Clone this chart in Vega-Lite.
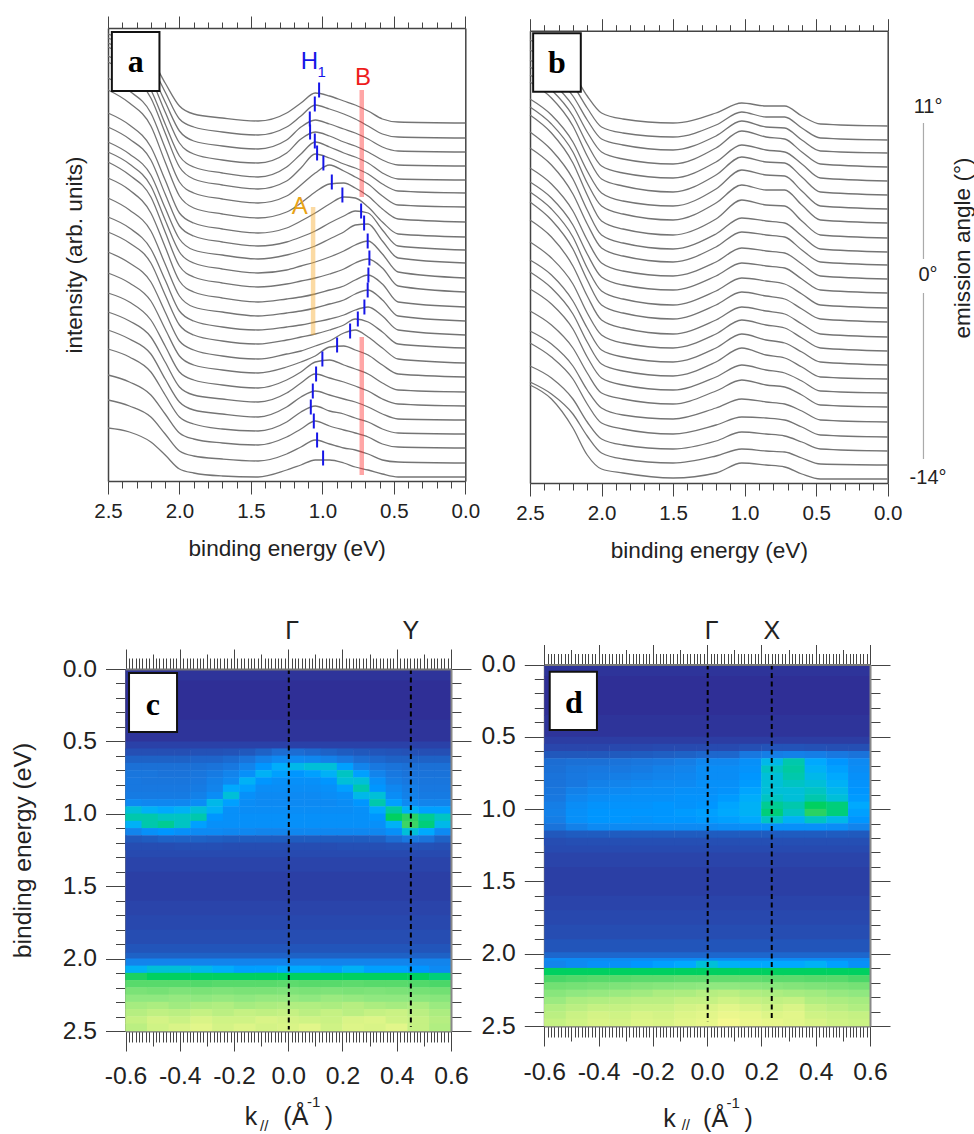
{"$schema":"https://vega.github.io/schema/vega-lite/v6.json","width":974,"height":1134,"padding":0,"autosize":"none","background":"white","config":{"view":{"stroke":null},"axis":{"grid":false,"labelFont":"Liberation Sans","titleFont":"Liberation Sans","titleFontWeight":"normal","labelColor":"#222","titleColor":"#222","labelOverlap":false,"labelFlush":false,"labelBound":false},"text":{"font":"Liberation Sans"}},"resolve":{"scale":{"x":"independent","y":"independent","color":"independent"},"axis":{"x":"independent","y":"independent"}},"layer":[
{"data":{"values":[
{"c":1,"x":2.5,"y":447},{"c":1,"x":2.35,"y":438},{"c":1,"x":2.2,"y":423},{"c":1,"x":2.1,"y":398},{"c":1,"x":2,"y":375},{"c":1,"x":1.9,"y":367},{"c":1,"x":1.7,"y":363},{"c":1,"x":1.45,"y":360},{"c":1,"x":1.25,"y":368},{"c":1,"x":1.15,"y":378},{"c":1,"x":1.05,"y":388},{"c":1,"x":0.95,"y":385},{"c":1,"x":0.85,"y":380},{"c":1,"x":0.77,"y":376},{"c":1,"x":0.68,"y":370},{"c":1,"x":0.58,"y":362},{"c":1,"x":0.47,"y":359},{"c":1,"x":0,"y":358},
{"c":2,"x":2.5,"y":443},{"c":2,"x":2.35,"y":433},{"c":2,"x":2.2,"y":416},{"c":2,"x":2.1,"y":389},{"c":2,"x":2,"y":362},{"c":2,"x":1.9,"y":354},{"c":2,"x":1.7,"y":349},{"c":2,"x":1.45,"y":346},{"c":2,"x":1.25,"y":354},{"c":2,"x":1.15,"y":365},{"c":2,"x":1.05,"y":376},{"c":2,"x":0.95,"y":372},{"c":2,"x":0.85,"y":367},{"c":2,"x":0.77,"y":362},{"c":2,"x":0.68,"y":355},{"c":2,"x":0.58,"y":347},{"c":2,"x":0.47,"y":344},{"c":2,"x":0,"y":343},
{"c":3,"x":2.5,"y":438},{"c":3,"x":2.35,"y":427},{"c":3,"x":2.2,"y":408},{"c":3,"x":2.1,"y":379},{"c":3,"x":2,"y":350},{"c":3,"x":1.9,"y":340},{"c":3,"x":1.7,"y":335},{"c":3,"x":1.45,"y":332},{"c":3,"x":1.25,"y":341},{"c":3,"x":1.15,"y":354},{"c":3,"x":1.05,"y":361},{"c":3,"x":0.95,"y":357},{"c":3,"x":0.85,"y":352},{"c":3,"x":0.77,"y":348},{"c":3,"x":0.68,"y":342},{"c":3,"x":0.58,"y":334},{"c":3,"x":0.47,"y":330},{"c":3,"x":0,"y":329},
{"c":4,"x":2.5,"y":434},{"c":4,"x":2.35,"y":422},{"c":4,"x":2.2,"y":402},{"c":4,"x":2.1,"y":369},{"c":4,"x":2,"y":338},{"c":4,"x":1.9,"y":327},{"c":4,"x":1.7,"y":321},{"c":4,"x":1.45,"y":318},{"c":4,"x":1.25,"y":328},{"c":4,"x":1.15,"y":342},{"c":4,"x":1.05,"y":349},{"c":4,"x":0.95,"y":345},{"c":4,"x":0.85,"y":339},{"c":4,"x":0.77,"y":335},{"c":4,"x":0.68,"y":329},{"c":4,"x":0.58,"y":321},{"c":4,"x":0.47,"y":316},{"c":4,"x":0,"y":315},
{"c":5,"x":2.5,"y":425},{"c":5,"x":2.35,"y":413},{"c":5,"x":2.2,"y":391},{"c":5,"x":2.1,"y":357},{"c":5,"x":2,"y":325},{"c":5,"x":1.9,"y":314},{"c":5,"x":1.7,"y":308},{"c":5,"x":1.45,"y":304},{"c":5,"x":1.25,"y":314},{"c":5,"x":1.15,"y":327},{"c":5,"x":1.05,"y":339},{"c":5,"x":0.95,"y":334},{"c":5,"x":0.85,"y":328},{"c":5,"x":0.77,"y":324},{"c":5,"x":0.68,"y":318},{"c":5,"x":0.58,"y":308},{"c":5,"x":0.47,"y":302},{"c":5,"x":0,"y":301},
{"c":6,"x":2.5,"y":419},{"c":6,"x":2.35,"y":406},{"c":6,"x":2.2,"y":383},{"c":6,"x":2.1,"y":348},{"c":6,"x":2,"y":314},{"c":6,"x":1.9,"y":302},{"c":6,"x":1.7,"y":296},{"c":6,"x":1.45,"y":292},{"c":6,"x":1.25,"y":300},{"c":6,"x":1.15,"y":313},{"c":6,"x":1.05,"y":327},{"c":6,"x":0.95,"y":323},{"c":6,"x":0.85,"y":317},{"c":6,"x":0.77,"y":313},{"c":6,"x":0.68,"y":307},{"c":6,"x":0.58,"y":297},{"c":6,"x":0.47,"y":290},{"c":6,"x":0,"y":288},
{"c":7,"x":2.5,"y":403},{"c":7,"x":2.35,"y":390},{"c":7,"x":2.2,"y":368},{"c":7,"x":2.1,"y":333},{"c":7,"x":2,"y":299},{"c":7,"x":1.9,"y":288},{"c":7,"x":1.7,"y":282},{"c":7,"x":1.45,"y":278},{"c":7,"x":1.25,"y":285},{"c":7,"x":1.15,"y":296},{"c":7,"x":1.05,"y":308},{"c":7,"x":0.95,"y":316},{"c":7,"x":0.85,"y":310},{"c":7,"x":0.77,"y":304},{"c":7,"x":0.68,"y":297},{"c":7,"x":0.58,"y":285},{"c":7,"x":0.47,"y":276},{"c":7,"x":0,"y":274},
{"c":8,"x":2.5,"y":391},{"c":8,"x":2.35,"y":378},{"c":8,"x":2.2,"y":355},{"c":8,"x":2.1,"y":319},{"c":8,"x":2,"y":285},{"c":8,"x":1.9,"y":273},{"c":8,"x":1.7,"y":267},{"c":8,"x":1.45,"y":263},{"c":8,"x":1.25,"y":269},{"c":8,"x":1.15,"y":278},{"c":8,"x":1.05,"y":289},{"c":8,"x":0.95,"y":297},{"c":8,"x":0.85,"y":298},{"c":8,"x":0.77,"y":293},{"c":8,"x":0.68,"y":285},{"c":8,"x":0.58,"y":272},{"c":8,"x":0.47,"y":262},{"c":8,"x":0,"y":259},
{"c":9,"x":2.5,"y":368},{"c":9,"x":2.35,"y":356},{"c":9,"x":2.2,"y":334},{"c":9,"x":2.1,"y":301},{"c":9,"x":2,"y":268},{"c":9,"x":1.9,"y":258},{"c":9,"x":1.7,"y":252},{"c":9,"x":1.45,"y":248},{"c":9,"x":1.25,"y":253},{"c":9,"x":1.15,"y":260},{"c":9,"x":1.05,"y":268},{"c":9,"x":0.95,"y":277},{"c":9,"x":0.85,"y":284},{"c":9,"x":0.77,"y":283},{"c":9,"x":0.68,"y":274},{"c":9,"x":0.58,"y":259},{"c":9,"x":0.47,"y":247},{"c":9,"x":0,"y":244},
{"c":10,"x":2.5,"y":354},{"c":10,"x":2.35,"y":342},{"c":10,"x":2.2,"y":321},{"c":10,"x":2.1,"y":287},{"c":10,"x":2,"y":255},{"c":10,"x":1.9,"y":245},{"c":10,"x":1.7,"y":239},{"c":10,"x":1.45,"y":235},{"c":10,"x":1.25,"y":239},{"c":10,"x":1.15,"y":244},{"c":10,"x":1.05,"y":250},{"c":10,"x":0.95,"y":258},{"c":10,"x":0.85,"y":265},{"c":10,"x":0.77,"y":270},{"c":10,"x":0.68,"y":268},{"c":10,"x":0.58,"y":251},{"c":10,"x":0.47,"y":235},{"c":10,"x":0,"y":231},
{"c":11,"x":2.5,"y":339},{"c":11,"x":2.35,"y":327},{"c":11,"x":2.2,"y":306},{"c":11,"x":2.1,"y":273},{"c":11,"x":2,"y":242},{"c":11,"x":1.9,"y":231},{"c":11,"x":1.7,"y":226},{"c":11,"x":1.45,"y":222},{"c":11,"x":1.25,"y":226},{"c":11,"x":1.15,"y":230},{"c":11,"x":1.05,"y":235},{"c":11,"x":0.95,"y":242},{"c":11,"x":0.85,"y":249},{"c":11,"x":0.77,"y":256},{"c":11,"x":0.68,"y":257},{"c":11,"x":0.58,"y":240},{"c":11,"x":0.47,"y":223},{"c":11,"x":0,"y":218},
{"c":12,"x":2.5,"y":329},{"c":12,"x":2.35,"y":317},{"c":12,"x":2.2,"y":295},{"c":12,"x":2.1,"y":261},{"c":12,"x":2,"y":229},{"c":12,"x":1.9,"y":218},{"c":12,"x":1.7,"y":212},{"c":12,"x":1.45,"y":208},{"c":12,"x":1.25,"y":211},{"c":12,"x":1.15,"y":215},{"c":12,"x":1.05,"y":219},{"c":12,"x":0.95,"y":224},{"c":12,"x":0.85,"y":230},{"c":12,"x":0.77,"y":236},{"c":12,"x":0.68,"y":240},{"c":12,"x":0.58,"y":227},{"c":12,"x":0.47,"y":209},{"c":12,"x":0,"y":203},
{"c":13,"x":2.5,"y":319},{"c":13,"x":2.35,"y":306},{"c":13,"x":2.2,"y":284},{"c":13,"x":2.1,"y":249},{"c":13,"x":2,"y":215},{"c":13,"x":1.9,"y":204},{"c":13,"x":1.7,"y":198},{"c":13,"x":1.45,"y":194},{"c":13,"x":1.25,"y":197},{"c":13,"x":1.15,"y":200},{"c":13,"x":1.05,"y":203},{"c":13,"x":0.95,"y":207},{"c":13,"x":0.85,"y":212},{"c":13,"x":0.77,"y":218},{"c":13,"x":0.68,"y":222},{"c":13,"x":0.58,"y":213},{"c":13,"x":0.47,"y":195},{"c":13,"x":0,"y":189},
{"c":14,"x":2.5,"y":303},{"c":14,"x":2.35,"y":291},{"c":14,"x":2.2,"y":268},{"c":14,"x":2.1,"y":234},{"c":14,"x":2,"y":200},{"c":14,"x":1.9,"y":189},{"c":14,"x":1.7,"y":183},{"c":14,"x":1.45,"y":179},{"c":14,"x":1.25,"y":182},{"c":14,"x":1.15,"y":184},{"c":14,"x":1.05,"y":187},{"c":14,"x":0.95,"y":191},{"c":14,"x":0.85,"y":195},{"c":14,"x":0.77,"y":201},{"c":14,"x":0.68,"y":206},{"c":14,"x":0.58,"y":197},{"c":14,"x":0.47,"y":179},{"c":14,"x":0,"y":174},
{"c":15,"x":2.5,"y":283},{"c":15,"x":2.35,"y":271},{"c":15,"x":2.2,"y":250},{"c":15,"x":2.1,"y":217},{"c":15,"x":2,"y":185},{"c":15,"x":1.9,"y":174},{"c":15,"x":1.7,"y":169},{"c":15,"x":1.45,"y":165},{"c":15,"x":1.25,"y":168},{"c":15,"x":1.15,"y":170},{"c":15,"x":1.05,"y":173},{"c":15,"x":0.95,"y":177},{"c":15,"x":0.85,"y":181},{"c":15,"x":0.77,"y":187},{"c":15,"x":0.68,"y":191},{"c":15,"x":0.58,"y":181},{"c":15,"x":0.47,"y":165},{"c":15,"x":0,"y":160},
{"c":16,"x":2.5,"y":264},{"c":16,"x":2.35,"y":253},{"c":16,"x":2.2,"y":232},{"c":16,"x":2.1,"y":201},{"c":16,"x":2,"y":170},{"c":16,"x":1.9,"y":160},{"c":16,"x":1.7,"y":154},{"c":16,"x":1.45,"y":151},{"c":16,"x":1.25,"y":154},{"c":16,"x":1.15,"y":156},{"c":16,"x":1.05,"y":159},{"c":16,"x":0.95,"y":162},{"c":16,"x":0.85,"y":166},{"c":16,"x":0.77,"y":171},{"c":16,"x":0.68,"y":174},{"c":16,"x":0.58,"y":165},{"c":16,"x":0.47,"y":151},{"c":16,"x":0,"y":146},
{"c":17,"x":2.5,"y":249},{"c":17,"x":2.35,"y":238},{"c":17,"x":2.2,"y":218},{"c":17,"x":2.1,"y":186},{"c":17,"x":2,"y":156},{"c":17,"x":1.9,"y":146},{"c":17,"x":1.7,"y":140},{"c":17,"x":1.45,"y":137},{"c":17,"x":1.25,"y":141},{"c":17,"x":1.15,"y":144},{"c":17,"x":1.05,"y":147},{"c":17,"x":0.95,"y":151},{"c":17,"x":0.85,"y":156},{"c":17,"x":0.77,"y":162},{"c":17,"x":0.68,"y":159},{"c":17,"x":0.58,"y":149},{"c":17,"x":0.47,"y":137},{"c":17,"x":0,"y":133},
{"c":18,"x":2.5,"y":229},{"c":18,"x":2.35,"y":218},{"c":18,"x":2.2,"y":199},{"c":18,"x":2.1,"y":169},{"c":18,"x":2,"y":140},{"c":18,"x":1.9,"y":131},{"c":18,"x":1.7,"y":125},{"c":18,"x":1.45,"y":122},{"c":18,"x":1.25,"y":127},{"c":18,"x":1.15,"y":130},{"c":18,"x":1.05,"y":135},{"c":18,"x":0.95,"y":140},{"c":18,"x":0.85,"y":148},{"c":18,"x":0.77,"y":151},{"c":18,"x":0.68,"y":144},{"c":18,"x":0.58,"y":133},{"c":18,"x":0.47,"y":122},{"c":18,"x":0,"y":118},
{"c":19,"x":2.5,"y":208},{"c":19,"x":2.35,"y":198},{"c":19,"x":2.2,"y":180},{"c":19,"x":2.1,"y":152},{"c":19,"x":2,"y":125},{"c":19,"x":1.9,"y":116},{"c":19,"x":1.7,"y":111},{"c":19,"x":1.45,"y":108},{"c":19,"x":1.25,"y":114},{"c":19,"x":1.15,"y":119},{"c":19,"x":1.05,"y":125},{"c":19,"x":0.95,"y":134},{"c":19,"x":0.85,"y":135},{"c":19,"x":0.77,"y":131},{"c":19,"x":0.68,"y":126},{"c":19,"x":0.58,"y":116},{"c":19,"x":0.47,"y":107},{"c":19,"x":0,"y":104},
{"c":20,"x":2.5,"y":188},{"c":20,"x":2.35,"y":179},{"c":20,"x":2.2,"y":161},{"c":20,"x":2.1,"y":135},{"c":20,"x":2,"y":109},{"c":20,"x":1.9,"y":101},{"c":20,"x":1.7,"y":96},{"c":20,"x":1.45,"y":93},{"c":20,"x":1.25,"y":101},{"c":20,"x":1.15,"y":109},{"c":20,"x":1.05,"y":119},{"c":20,"x":0.95,"y":121},{"c":20,"x":0.85,"y":116},{"c":20,"x":0.77,"y":112},{"c":20,"x":0.68,"y":107},{"c":20,"x":0.58,"y":98},{"c":20,"x":0.47,"y":91},{"c":20,"x":0,"y":89},
{"c":21,"x":2.5,"y":169},{"c":21,"x":2.35,"y":160},{"c":21,"x":2.2,"y":144},{"c":21,"x":2.1,"y":119},{"c":21,"x":2,"y":94},{"c":21,"x":1.9,"y":86},{"c":21,"x":1.7,"y":82},{"c":21,"x":1.45,"y":79},{"c":21,"x":1.25,"y":88},{"c":21,"x":1.15,"y":98},{"c":21,"x":1.05,"y":107},{"c":21,"x":0.95,"y":103},{"c":21,"x":0.85,"y":99},{"c":21,"x":0.77,"y":95},{"c":21,"x":0.68,"y":90},{"c":21,"x":0.58,"y":82},{"c":21,"x":0.47,"y":77},{"c":21,"x":0,"y":75},
{"c":22,"x":2.5,"y":151},{"c":22,"x":2.35,"y":142},{"c":22,"x":2.2,"y":127},{"c":22,"x":2.1,"y":102},{"c":22,"x":2,"y":79},{"c":22,"x":1.9,"y":71},{"c":22,"x":1.7,"y":67},{"c":22,"x":1.45,"y":64},{"c":22,"x":1.25,"y":74},{"c":22,"x":1.15,"y":84},{"c":22,"x":1.05,"y":90},{"c":22,"x":0.95,"y":86},{"c":22,"x":0.85,"y":82},{"c":22,"x":0.77,"y":79},{"c":22,"x":0.68,"y":74},{"c":22,"x":0.58,"y":67},{"c":22,"x":0.47,"y":62},{"c":22,"x":0,"y":61},
{"c":23,"x":2.5,"y":132},{"c":23,"x":2.35,"y":124},{"c":23,"x":2.2,"y":109},{"c":23,"x":2.1,"y":86},{"c":23,"x":2,"y":64},{"c":23,"x":1.9,"y":57},{"c":23,"x":1.7,"y":52},{"c":23,"x":1.45,"y":50},{"c":23,"x":1.25,"y":59},{"c":23,"x":1.15,"y":69},{"c":23,"x":1.05,"y":75},{"c":23,"x":0.95,"y":70},{"c":23,"x":0.85,"y":67},{"c":23,"x":0.77,"y":63},{"c":23,"x":0.68,"y":59},{"c":23,"x":0.58,"y":52},{"c":23,"x":0.47,"y":48},{"c":23,"x":0,"y":47},
{"c":24,"x":2.5,"y":106},{"c":24,"x":2.35,"y":99},{"c":24,"x":2.2,"y":86},{"c":24,"x":2.1,"y":67},{"c":24,"x":2,"y":48},{"c":24,"x":1.9,"y":42},{"c":24,"x":1.7,"y":38},{"c":24,"x":1.45,"y":36},{"c":24,"x":1.25,"y":44},{"c":24,"x":1.15,"y":52},{"c":24,"x":1.05,"y":60},{"c":24,"x":0.95,"y":55},{"c":24,"x":0.85,"y":51},{"c":24,"x":0.77,"y":48},{"c":24,"x":0.68,"y":44},{"c":24,"x":0.58,"y":37},{"c":24,"x":0.47,"y":34},{"c":24,"x":0,"y":33},
{"c":25,"x":2.5,"y":81},{"c":25,"x":2.35,"y":75},{"c":25,"x":2.2,"y":64},{"c":25,"x":2.1,"y":47},{"c":25,"x":2,"y":30},{"c":25,"x":1.9,"y":25},{"c":25,"x":1.7,"y":22},{"c":25,"x":1.45,"y":20},{"c":25,"x":1.25,"y":27},{"c":25,"x":1.15,"y":34},{"c":25,"x":1.05,"y":41},{"c":25,"x":0.95,"y":37},{"c":25,"x":0.85,"y":33},{"c":25,"x":0.77,"y":31},{"c":25,"x":0.68,"y":27},{"c":25,"x":0.58,"y":21},{"c":25,"x":0.47,"y":19},{"c":25,"x":0,"y":18},
{"c":26,"x":2.5,"y":53},{"c":26,"x":2.35,"y":49},{"c":26,"x":2.2,"y":39},{"c":26,"x":2.1,"y":26},{"c":26,"x":2,"y":12},{"c":26,"x":1.9,"y":8},{"c":26,"x":1.7,"y":5},{"c":26,"x":1.45,"y":4},{"c":26,"x":1.25,"y":11},{"c":26,"x":1.15,"y":16},{"c":26,"x":1.05,"y":21},{"c":26,"x":0.95,"y":21},{"c":26,"x":0.85,"y":18},{"c":26,"x":0.77,"y":14},{"c":26,"x":0.68,"y":11},{"c":26,"x":0.58,"y":7},{"c":26,"x":0.47,"y":4},{"c":26,"x":0,"y":4}
]},"mark":{"type":"line","stroke":"#747474","strokeWidth":1.3,"interpolate":"monotone"},"encoding":{"detail":{"field":"c"},"x":{"field":"x","type":"quantitative","scale":{"domain":[2.5,0],"range":[108,465.3]},"axis":{"orient":"bottom","offset":-653,"values":[2.5,2.4,2.3,2.2,2.1,2,1.9,1.8,1.7,1.6,1.5,1.4,1.3,1.2,1.1,1,0.9,0.8,0.7,0.6,0.5,0.4,0.3,0.2,0.1,0],"labelExpr":"abs(datum.value*2-round(datum.value*2))<0.01?format(datum.value,'.1f'):''","tickSize":{"condition":{"test":"abs(datum.value*2-round(datum.value*2))<0.01","value":13},"value":7},"labelFontSize":20.5,"labelPadding":7,"title":"binding energy (eV)","titleFontSize":22.6,"titlePadding":16,"domainColor":"#444","tickColor":"#444","domainWidth":1.5,"tickWidth":1}},"y":{"field":"y","type":"quantitative","scale":{"domain":[0,453],"range":[481,28]},"axis":{"orient":"left","offset":-108,"values":[],"ticks":false,"labels":false,"title":"intensity (arb. units)","titleFontSize":22.6,"titlePadding":22,"domainColor":"#444","domainWidth":1.5}}}},
{"data":{"values":[{"x":1,"y":1}]},"mark":{"type":"point","opacity":0},"encoding":{"x":{"field":"x","type":"quantitative","scale":{"domain":[2.5,0],"range":[108,465.3]},"axis":{"orient":"top","offset":-28,"values":[2.5,2.4,2.3,2.2,2.1,2,1.9,1.8,1.7,1.6,1.5,1.4,1.3,1.2,1.1,1,0.9,0.8,0.7,0.6,0.5,0.4,0.3,0.2,0.1,0],"labels":false,"title":null,"tickSize":{"condition":{"test":"abs(datum.value*2-round(datum.value*2))<0.01","value":12},"value":6},"domainColor":"#444","tickColor":"#444","domainWidth":1.5}},"y":{"field":"y","type":"quantitative","scale":{"domain":[0,453],"range":[481,28]},"axis":{"orient":"right","offset":-508.7,"values":[],"ticks":false,"labels":false,"title":null,"domainColor":"#444","domainWidth":1.5}}}},
{"data":{"values":[{"x":1.065,"y":274,"y2":146,"s":"A"},{"x":0.7245,"y":391,"y2":284,"s":"B"},{"x":0.7245,"y":144,"y2":6,"s":"B"}]},"mark":{"type":"rule","strokeWidth":4.5,"opacity":0.42},"encoding":{"x":{"field":"x","type":"quantitative","scale":{"domain":[2.5,0],"range":[108,465.3]},"axis":null},"y":{"field":"y","type":"quantitative","scale":{"domain":[0,453],"range":[481,28]},"axis":null},"y2":{"field":"y2"},"color":{"field":"s","type":"nominal","legend":null,"scale":{"domain":["A","B"],"range":["#f5a623","#ff2a2a"]}}}},
{"data":{"values":[{"x":1.023,"y":398.5,"y2":383.5},{"x":1.053,"y":384.5,"y2":369.5},{"x":1.088,"y":369.5,"y2":354.5},{"x":1.086,"y":356.5,"y2":341.5},{"x":1.053,"y":347.5,"y2":332.5},{"x":1.037,"y":335.5,"y2":320.5},{"x":0.993,"y":325.5,"y2":310.5},{"x":0.934,"y":306.5,"y2":291.5},{"x":0.86,"y":293.5,"y2":278.5},{"x":0.729,"y":277.5,"y2":262.5},{"x":0.708,"y":265.5,"y2":250.5},{"x":0.683,"y":247.5,"y2":232.5},{"x":0.671,"y":230.5,"y2":215.5},{"x":0.678,"y":213.5,"y2":198.5},{"x":0.683,"y":198.5,"y2":183.5},{"x":0.706,"y":181.5,"y2":166.5},{"x":0.752,"y":169.5,"y2":154.5},{"x":0.806,"y":157.5,"y2":142.5},{"x":0.897,"y":143.5,"y2":128.5},{"x":1,"y":129.5,"y2":114.5},{"x":1.044,"y":114.5,"y2":99.5},{"x":1.067,"y":97.5,"y2":82.5},{"x":1.081,"y":81.5,"y2":66.5},{"x":1.06,"y":67.5,"y2":52.5},{"x":1.037,"y":48.5,"y2":33.5},{"x":0.995,"y":30.5,"y2":15.5}]},"mark":{"type":"rule","stroke":"#1616e8","strokeWidth":2},"encoding":{"x":{"field":"x","type":"quantitative","scale":{"domain":[2.5,0],"range":[108,465.3]},"axis":null},"y":{"field":"y","type":"quantitative","scale":{"domain":[0,453],"range":[481,28]},"axis":null},"y2":{"field":"y2"}}},
{"data":{"values":[{"x":1.151,"y":412,"t":"H"},{"x":0.771,"y":396,"t":"B"},{"x":1.214,"y":267,"t":"A"}]},"mark":{"type":"text","align":"left","baseline":"alphabetic","fontSize":24},"encoding":{"x":{"field":"x","type":"quantitative","scale":{"domain":[2.5,0],"range":[108,465.3]},"axis":null},"y":{"field":"y","type":"quantitative","scale":{"domain":[0,453],"range":[481,28]},"axis":null},"text":{"field":"t"},"color":{"field":"t","type":"nominal","legend":null,"scale":{"domain":["H","B","A"],"range":["#1616e8","#ee1c1c","#e8a317"]}}}},
{"data":{"values":[{"x":1.035,"y":404,"t":"1"}]},"mark":{"type":"text","align":"left","baseline":"alphabetic","fontSize":15,"fill":"#1616e8"},"encoding":{"x":{"field":"x","type":"quantitative","scale":{"domain":[2.5,0],"range":[108,465.3]},"axis":null},"y":{"field":"y","type":"quantitative","scale":{"domain":[0,453],"range":[481,28]},"axis":null},"text":{"field":"t"}}},
{"data":{"values":[{"x":2.473,"x2":2.14,"y":449,"y2":390}]},"mark":{"type":"rect","fill":"white","stroke":"#111","strokeWidth":2},"encoding":{"x":{"field":"x","type":"quantitative","scale":{"domain":[2.5,0],"range":[108,465.3]},"axis":null},"x2":{"field":"x2"},"y":{"field":"y","type":"quantitative","scale":{"domain":[0,453],"range":[481,28]},"axis":null},"y2":{"field":"y2"}}},
{"data":{"values":[{"x":2.306,"y":419,"t":"a"}]},"mark":{"type":"text","font":"Liberation Serif","fontWeight":"bold","fontSize":32,"fill":"#000","baseline":"middle"},"encoding":{"x":{"field":"x","type":"quantitative","scale":{"domain":[2.5,0],"range":[108,465.3]},"axis":null},"y":{"field":"y","type":"quantitative","scale":{"domain":[0,453],"range":[481,28]},"axis":null},"text":{"field":"t"}}},

{"data":{"values":[
{"c":1,"x":2.5,"y":443},{"c":1,"x":2.35,"y":431},{"c":1,"x":2.2,"y":410},{"c":1,"x":2.1,"y":387},{"c":1,"x":2,"y":370},{"c":1,"x":1.85,"y":364},{"c":1,"x":1.5,"y":360},{"c":1,"x":1.2,"y":370},{"c":1,"x":1.02,"y":380},{"c":1,"x":0.85,"y":377},{"c":1,"x":0.72,"y":377},{"c":1,"x":0.6,"y":367},{"c":1,"x":0.47,"y":359},{"c":1,"x":0,"y":357},
{"c":2,"x":2.5,"y":433},{"c":2,"x":2.35,"y":420},{"c":2,"x":2.2,"y":398},{"c":2,"x":2.1,"y":375},{"c":2,"x":2,"y":356},{"c":2,"x":1.85,"y":350},{"c":2,"x":1.5,"y":346},{"c":2,"x":1.2,"y":358},{"c":2,"x":1.02,"y":371},{"c":2,"x":0.85,"y":366},{"c":2,"x":0.72,"y":366},{"c":2,"x":0.6,"y":355},{"c":2,"x":0.47,"y":345},{"c":2,"x":0,"y":343},
{"c":3,"x":2.5,"y":423},{"c":3,"x":2.35,"y":409},{"c":3,"x":2.2,"y":387},{"c":3,"x":2.1,"y":363},{"c":3,"x":2,"y":344},{"c":3,"x":1.85,"y":338},{"c":3,"x":1.5,"y":333},{"c":3,"x":1.2,"y":347},{"c":3,"x":1.02,"y":362},{"c":3,"x":0.85,"y":356},{"c":3,"x":0.72,"y":355},{"c":3,"x":0.6,"y":343},{"c":3,"x":0.47,"y":332},{"c":3,"x":0,"y":330},
{"c":4,"x":2.5,"y":416},{"c":4,"x":2.35,"y":401},{"c":4,"x":2.2,"y":377},{"c":4,"x":2.1,"y":351},{"c":4,"x":2,"y":331},{"c":4,"x":1.85,"y":324},{"c":4,"x":1.5,"y":319},{"c":4,"x":1.2,"y":335},{"c":4,"x":1.02,"y":352},{"c":4,"x":0.85,"y":346},{"c":4,"x":0.72,"y":344},{"c":4,"x":0.6,"y":331},{"c":4,"x":0.47,"y":319},{"c":4,"x":0,"y":316},
{"c":5,"x":2.5,"y":408},{"c":5,"x":2.35,"y":393},{"c":5,"x":2.2,"y":367},{"c":5,"x":2.1,"y":339},{"c":5,"x":2,"y":317},{"c":5,"x":1.85,"y":310},{"c":5,"x":1.5,"y":305},{"c":5,"x":1.2,"y":321},{"c":5,"x":1.02,"y":338},{"c":5,"x":0.85,"y":333},{"c":5,"x":0.72,"y":331},{"c":5,"x":0.6,"y":319},{"c":5,"x":0.47,"y":305},{"c":5,"x":0,"y":302},
{"c":6,"x":2.5,"y":401},{"c":6,"x":2.35,"y":385},{"c":6,"x":2.2,"y":357},{"c":6,"x":2.1,"y":327},{"c":6,"x":2,"y":304},{"c":6,"x":1.85,"y":297},{"c":6,"x":1.5,"y":291},{"c":6,"x":1.2,"y":308},{"c":6,"x":1.02,"y":326},{"c":6,"x":0.85,"y":321},{"c":6,"x":0.72,"y":320},{"c":6,"x":0.6,"y":306},{"c":6,"x":0.47,"y":291},{"c":6,"x":0,"y":288},
{"c":7,"x":2.5,"y":384},{"c":7,"x":2.35,"y":368},{"c":7,"x":2.2,"y":341},{"c":7,"x":2.1,"y":312},{"c":7,"x":2,"y":290},{"c":7,"x":1.85,"y":282},{"c":7,"x":1.5,"y":277},{"c":7,"x":1.2,"y":294},{"c":7,"x":1.02,"y":313},{"c":7,"x":0.85,"y":308},{"c":7,"x":0.72,"y":307},{"c":7,"x":0.6,"y":292},{"c":7,"x":0.47,"y":277},{"c":7,"x":0,"y":274},
{"c":8,"x":2.5,"y":376},{"c":8,"x":2.35,"y":359},{"c":8,"x":2.2,"y":331},{"c":8,"x":2.1,"y":300},{"c":8,"x":2,"y":277},{"c":8,"x":1.85,"y":269},{"c":8,"x":1.5,"y":263},{"c":8,"x":1.2,"y":280},{"c":8,"x":1.02,"y":298},{"c":8,"x":0.85,"y":293},{"c":8,"x":0.72,"y":293},{"c":8,"x":0.6,"y":278},{"c":8,"x":0.47,"y":263},{"c":8,"x":0,"y":260},
{"c":9,"x":2.5,"y":368},{"c":9,"x":2.35,"y":350},{"c":9,"x":2.2,"y":320},{"c":9,"x":2.1,"y":288},{"c":9,"x":2,"y":262},{"c":9,"x":1.85,"y":254},{"c":9,"x":1.5,"y":248},{"c":9,"x":1.2,"y":264},{"c":9,"x":1.02,"y":283},{"c":9,"x":0.85,"y":278},{"c":9,"x":0.72,"y":277},{"c":9,"x":0.6,"y":262},{"c":9,"x":0.47,"y":248},{"c":9,"x":0,"y":245},
{"c":10,"x":2.5,"y":351},{"c":10,"x":2.35,"y":333},{"c":10,"x":2.2,"y":304},{"c":10,"x":2.1,"y":273},{"c":10,"x":2,"y":248},{"c":10,"x":1.85,"y":240},{"c":10,"x":1.5,"y":234},{"c":10,"x":1.2,"y":249},{"c":10,"x":1.02,"y":265},{"c":10,"x":0.85,"y":262},{"c":10,"x":0.72,"y":260},{"c":10,"x":0.6,"y":247},{"c":10,"x":0.47,"y":234},{"c":10,"x":0,"y":231},
{"c":11,"x":2.5,"y":335},{"c":11,"x":2.35,"y":318},{"c":11,"x":2.2,"y":289},{"c":11,"x":2.1,"y":259},{"c":11,"x":2,"y":235},{"c":11,"x":1.85,"y":227},{"c":11,"x":1.5,"y":221},{"c":11,"x":1.2,"y":236},{"c":11,"x":1.02,"y":251},{"c":11,"x":0.85,"y":248},{"c":11,"x":0.72,"y":246},{"c":11,"x":0.6,"y":233},{"c":11,"x":0.47,"y":221},{"c":11,"x":0,"y":218},
{"c":12,"x":2.5,"y":315},{"c":12,"x":2.35,"y":299},{"c":12,"x":2.2,"y":272},{"c":12,"x":2.1,"y":243},{"c":12,"x":2,"y":220},{"c":12,"x":1.85,"y":212},{"c":12,"x":1.5,"y":207},{"c":12,"x":1.2,"y":221},{"c":12,"x":1.02,"y":235},{"c":12,"x":0.85,"y":232},{"c":12,"x":0.72,"y":230},{"c":12,"x":0.6,"y":219},{"c":12,"x":0.47,"y":207},{"c":12,"x":0,"y":204},
{"c":13,"x":2.5,"y":301},{"c":13,"x":2.35,"y":285},{"c":13,"x":2.2,"y":258},{"c":13,"x":2.1,"y":229},{"c":13,"x":2,"y":206},{"c":13,"x":1.85,"y":198},{"c":13,"x":1.5,"y":193},{"c":13,"x":1.2,"y":207},{"c":13,"x":1.02,"y":220},{"c":13,"x":0.85,"y":217},{"c":13,"x":0.72,"y":215},{"c":13,"x":0.6,"y":204},{"c":13,"x":0.47,"y":193},{"c":13,"x":0,"y":190},
{"c":14,"x":2.5,"y":291},{"c":14,"x":2.35,"y":274},{"c":14,"x":2.2,"y":246},{"c":14,"x":2.1,"y":215},{"c":14,"x":2,"y":192},{"c":14,"x":1.85,"y":184},{"c":14,"x":1.5,"y":178},{"c":14,"x":1.2,"y":192},{"c":14,"x":1.02,"y":205},{"c":14,"x":0.85,"y":202},{"c":14,"x":0.72,"y":199},{"c":14,"x":0.6,"y":189},{"c":14,"x":0.47,"y":178},{"c":14,"x":0,"y":175},
{"c":15,"x":2.5,"y":281},{"c":15,"x":2.35,"y":263},{"c":15,"x":2.2,"y":234},{"c":15,"x":2.1,"y":203},{"c":15,"x":2,"y":178},{"c":15,"x":1.85,"y":170},{"c":15,"x":1.5,"y":164},{"c":15,"x":1.2,"y":178},{"c":15,"x":1.02,"y":191},{"c":15,"x":0.85,"y":187},{"c":15,"x":0.72,"y":184},{"c":15,"x":0.6,"y":174},{"c":15,"x":0.47,"y":164},{"c":15,"x":0,"y":161},
{"c":16,"x":2.5,"y":263},{"c":16,"x":2.35,"y":246},{"c":16,"x":2.2,"y":217},{"c":16,"x":2.1,"y":187},{"c":16,"x":2,"y":163},{"c":16,"x":1.85,"y":155},{"c":16,"x":1.5,"y":149},{"c":16,"x":1.2,"y":163},{"c":16,"x":1.02,"y":176},{"c":16,"x":0.85,"y":172},{"c":16,"x":0.72,"y":169},{"c":16,"x":0.6,"y":159},{"c":16,"x":0.47,"y":149},{"c":16,"x":0,"y":146},
{"c":17,"x":2.5,"y":241},{"c":17,"x":2.35,"y":225},{"c":17,"x":2.2,"y":199},{"c":17,"x":2.1,"y":170},{"c":17,"x":2,"y":148},{"c":17,"x":1.85,"y":140},{"c":17,"x":1.5,"y":135},{"c":17,"x":1.2,"y":149},{"c":17,"x":1.02,"y":163},{"c":17,"x":0.85,"y":158},{"c":17,"x":0.72,"y":155},{"c":17,"x":0.6,"y":145},{"c":17,"x":0.47,"y":135},{"c":17,"x":0,"y":132},
{"c":18,"x":2.5,"y":223},{"c":18,"x":2.35,"y":208},{"c":18,"x":2.2,"y":182},{"c":18,"x":2.1,"y":155},{"c":18,"x":2,"y":133},{"c":18,"x":1.85,"y":126},{"c":18,"x":1.5,"y":121},{"c":18,"x":1.2,"y":135},{"c":18,"x":1.02,"y":149},{"c":18,"x":0.85,"y":143},{"c":18,"x":0.72,"y":140},{"c":18,"x":0.6,"y":131},{"c":18,"x":0.47,"y":121},{"c":18,"x":0,"y":118},
{"c":19,"x":2.5,"y":211},{"c":19,"x":2.35,"y":195},{"c":19,"x":2.2,"y":169},{"c":19,"x":2.1,"y":141},{"c":19,"x":2,"y":119},{"c":19,"x":1.85,"y":112},{"c":19,"x":1.5,"y":107},{"c":19,"x":1.2,"y":121},{"c":19,"x":1.02,"y":135},{"c":19,"x":0.85,"y":128},{"c":19,"x":0.72,"y":125},{"c":19,"x":0.6,"y":116},{"c":19,"x":0.47,"y":106},{"c":19,"x":0,"y":104},
{"c":20,"x":2.5,"y":194},{"c":20,"x":2.35,"y":179},{"c":20,"x":2.2,"y":154},{"c":20,"x":2.1,"y":126},{"c":20,"x":2,"y":105},{"c":20,"x":1.85,"y":98},{"c":20,"x":1.5,"y":93},{"c":20,"x":1.2,"y":106},{"c":20,"x":1.02,"y":118},{"c":20,"x":0.85,"y":113},{"c":20,"x":0.72,"y":110},{"c":20,"x":0.6,"y":102},{"c":20,"x":0.47,"y":92},{"c":20,"x":0,"y":90},
{"c":21,"x":2.5,"y":172},{"c":21,"x":2.35,"y":158},{"c":21,"x":2.2,"y":135},{"c":21,"x":2.1,"y":110},{"c":21,"x":2,"y":90},{"c":21,"x":1.85,"y":84},{"c":21,"x":1.5,"y":79},{"c":21,"x":1.2,"y":92},{"c":21,"x":1.02,"y":103},{"c":21,"x":0.85,"y":98},{"c":21,"x":0.72,"y":96},{"c":21,"x":0.6,"y":88},{"c":21,"x":0.47,"y":78},{"c":21,"x":0,"y":76},
{"c":22,"x":2.5,"y":152},{"c":22,"x":2.35,"y":139},{"c":22,"x":2.2,"y":117},{"c":22,"x":2.1,"y":93},{"c":22,"x":2,"y":75},{"c":22,"x":1.85,"y":68},{"c":22,"x":1.5,"y":64},{"c":22,"x":1.2,"y":75},{"c":22,"x":1.02,"y":84},{"c":22,"x":0.85,"y":81},{"c":22,"x":0.72,"y":79},{"c":22,"x":0.6,"y":72},{"c":22,"x":0.47,"y":63},{"c":22,"x":0,"y":61},
{"c":23,"x":2.5,"y":140},{"c":23,"x":2.35,"y":126},{"c":23,"x":2.2,"y":104},{"c":23,"x":2.1,"y":79},{"c":23,"x":2,"y":60},{"c":23,"x":1.85,"y":54},{"c":23,"x":1.5,"y":49},{"c":23,"x":1.2,"y":58},{"c":23,"x":1.02,"y":66},{"c":23,"x":0.85,"y":65},{"c":23,"x":0.72,"y":63},{"c":23,"x":0.6,"y":56},{"c":23,"x":0.47,"y":48},{"c":23,"x":0,"y":46},
{"c":24,"x":2.5,"y":117},{"c":24,"x":2.35,"y":105},{"c":24,"x":2.2,"y":84},{"c":24,"x":2.1,"y":61},{"c":24,"x":2,"y":44},{"c":24,"x":1.85,"y":38},{"c":24,"x":1.5,"y":34},{"c":24,"x":1.2,"y":42},{"c":24,"x":1.02,"y":51},{"c":24,"x":0.85,"y":49},{"c":24,"x":0.72,"y":47},{"c":24,"x":0.6,"y":41},{"c":24,"x":0.47,"y":34},{"c":24,"x":0,"y":32},
{"c":25,"x":2.5,"y":101},{"c":25,"x":2.35,"y":89},{"c":25,"x":2.2,"y":69},{"c":25,"x":2.1,"y":47},{"c":25,"x":2,"y":30},{"c":25,"x":1.85,"y":24},{"c":25,"x":1.5,"y":20},{"c":25,"x":1.2,"y":27},{"c":25,"x":1.02,"y":34},{"c":25,"x":0.85,"y":32},{"c":25,"x":0.72,"y":31},{"c":25,"x":0.6,"y":25},{"c":25,"x":0.47,"y":19},{"c":25,"x":0,"y":18},
{"c":26,"x":2.5,"y":98},{"c":26,"x":2.35,"y":84},{"c":26,"x":2.2,"y":55},{"c":26,"x":2.1,"y":28},{"c":26,"x":2,"y":14},{"c":26,"x":1.85,"y":10},{"c":26,"x":1.5,"y":5},{"c":26,"x":1.2,"y":10},{"c":26,"x":1.02,"y":20},{"c":26,"x":0.85,"y":18},{"c":26,"x":0.72,"y":16},{"c":26,"x":0.6,"y":9},{"c":26,"x":0.47,"y":4},{"c":26,"x":0,"y":4}
]},"mark":{"type":"line","stroke":"#747474","strokeWidth":1.3,"interpolate":"monotone"},"encoding":{"detail":{"field":"c"},"x":{"field":"x","type":"quantitative","scale":{"domain":[2.5,0],"range":[530,887.7]},"axis":{"orient":"bottom","offset":-651,"values":[2.5,2.4,2.3,2.2,2.1,2,1.9,1.8,1.7,1.6,1.5,1.4,1.3,1.2,1.1,1,0.9,0.8,0.7,0.6,0.5,0.4,0.3,0.2,0.1,0],"labelExpr":"abs(datum.value*2-round(datum.value*2))<0.01?format(datum.value,'.1f'):''","tickSize":{"condition":{"test":"abs(datum.value*2-round(datum.value*2))<0.01","value":13},"value":7},"labelFontSize":20.5,"labelPadding":7,"title":"binding energy (eV)","titleFontSize":22.6,"titlePadding":16,"domainColor":"#444","tickColor":"#444","domainWidth":1.5,"tickWidth":1}},"y":{"field":"y","type":"quantitative","scale":{"domain":[0,452.3],"range":[483,30.7]},"axis":{"orient":"left","offset":-530,"values":[],"ticks":false,"labels":false,"title":null,"domainColor":"#444","domainWidth":1.5}}}},
{"data":{"values":[{"x":1,"y":1}]},"mark":{"type":"point","opacity":0},"encoding":{"x":{"field":"x","type":"quantitative","scale":{"domain":[2.5,0],"range":[530,887.7]},"axis":{"orient":"top","offset":-30.7,"values":[2.5,2.4,2.3,2.2,2.1,2,1.9,1.8,1.7,1.6,1.5,1.4,1.3,1.2,1.1,1,0.9,0.8,0.7,0.6,0.5,0.4,0.3,0.2,0.1,0],"labels":false,"title":null,"tickSize":{"condition":{"test":"abs(datum.value*2-round(datum.value*2))<0.01","value":12},"value":6},"domainColor":"#444","tickColor":"#444","domainWidth":1.5}},"y":{"field":"y","type":"quantitative","scale":{"domain":[0,452.3],"range":[483,30.7]},"axis":{"orient":"right","offset":-86.3,"values":[],"ticks":false,"labels":false,"title":null,"domainColor":"#444","domainWidth":1.5}}}},
{"data":{"values":[{"x":-0.25,"y":360,"y2":224},{"x":-0.25,"y":190,"y2":24}]},"mark":{"type":"rule","stroke":"#aaa","strokeWidth":1.2},"encoding":{"x":{"field":"x","type":"quantitative","scale":{"domain":[2.5,0],"range":[530,887.7]},"axis":null},"y":{"field":"y","type":"quantitative","scale":{"domain":[0,452.3],"range":[483,30.7]},"axis":null},"y2":{"field":"y2"}}},
{"data":{"values":[{"x":-0.282,"y":376,"t":"11°"},{"x":-0.282,"y":208,"t":"0°"},{"x":-0.282,"y":5,"t":"-14°"}]},"mark":{"type":"text","fontSize":20,"fill":"#222","baseline":"middle"},"encoding":{"x":{"field":"x","type":"quantitative","scale":{"domain":[2.5,0],"range":[530,887.7]},"axis":null},"y":{"field":"y","type":"quantitative","scale":{"domain":[0,452.3],"range":[483,30.7]},"axis":null},"text":{"field":"t"}}},
{"data":{"values":[{"x":-0.526,"y":235,"t":"emission angle (°)"}]},"mark":{"type":"text","fontSize":22.6,"fill":"#222","baseline":"middle","angle":270},"encoding":{"x":{"field":"x","type":"quantitative","scale":{"domain":[2.5,0],"range":[530,887.7]},"axis":null},"y":{"field":"y","type":"quantitative","scale":{"domain":[0,452.3],"range":[483,30.7]},"axis":null},"text":{"field":"t"}}},
{"data":{"values":[{"x":2.478,"x2":2.145,"y":449.7,"y2":391.3}]},"mark":{"type":"rect","fill":"white","stroke":"#111","strokeWidth":2},"encoding":{"x":{"field":"x","type":"quantitative","scale":{"domain":[2.5,0],"range":[530,887.7]},"axis":null},"x2":{"field":"x2"},"y":{"field":"y","type":"quantitative","scale":{"domain":[0,452.3],"range":[483,30.7]},"axis":null},"y2":{"field":"y2"}}},
{"data":{"values":[{"x":2.312,"y":420,"t":"b"}]},"mark":{"type":"text","font":"Liberation Serif","fontWeight":"bold","fontSize":32,"fill":"#000","baseline":"middle"},"encoding":{"x":{"field":"x","type":"quantitative","scale":{"domain":[2.5,0],"range":[530,887.7]},"axis":null},"y":{"field":"y","type":"quantitative","scale":{"domain":[0,452.3],"range":[483,30.7]},"axis":null},"text":{"field":"t"}}},

{"data":{"values":[{"e":0,"e2":0.085,"v":2},{"e":0.08,"e2":0.355,"v":0},{"e":0.35,"e2":0.505,"v":2},{"e":0.5,"e2":0.56,"v":8},{"e":1.2,"e2":1.305,"v":12},{"e":1.3,"e2":1.405,"v":9},{"e":1.4,"e2":1.605,"v":7},{"e":1.6,"e2":1.705,"v":9},{"e":1.7,"e2":1.805,"v":11},{"e":1.8,"e2":1.905,"v":13},{"e":1.9,"e2":1.965,"v":17},{"e":1.96,"e2":2.005,"v":22},{"e":2,"e2":2.06,"v":34}]},"mark":{"type":"rect"},"encoding":{"x":{"datum":-0.6,"type":"quantitative","scale":{"domain":[-0.6,0.6000001],"range":[125.5,451]},"axis":{"orient":"bottom","offset":-103,"values":{"signal":"sequence(-0.6,0.6001,0.0125)"},"labelExpr":"abs(datum.value*5-round(datum.value*5))<0.01?(datum.value<-0.001?'-':'')+format(abs(datum.value),'.1f'):''","tickSize":{"condition":[{"test":"abs(datum.value*5-round(datum.value*5))<0.01","value":20},{"test":"abs(datum.value*10-round(datum.value*10))<0.01","value":15}],"value":11},"labelFontSize":24.7,"labelPadding":12,"title":null,"domainColor":"#777","domainWidth":2,"tickColor":"#444"}},"x2":{"datum":0.6},"y":{"field":"e","type":"quantitative","scale":{"domain":[0,2.5],"range":[669,1031]},"axis":{"orient":"left","offset":-125.5,"values":[0,0.1,0.2,0.3,0.4,0.5,0.6,0.7,0.8,0.9,1,1.1,1.2,1.3,1.4,1.5,1.6,1.7,1.8,1.9,2,2.1,2.2,2.3,2.4,2.5],"labelExpr":"abs(datum.value*2-round(datum.value*2))<0.01?format(datum.value,'.1f'):''","tickSize":{"condition":{"test":"abs(datum.value*2-round(datum.value*2))<0.01","value":20},"value":10},"labelFontSize":24.7,"labelPadding":9,"title":"binding energy (eV)","titleFontSize":24.7,"titlePadding":27,"domainColor":"#777","domainWidth":2,"tickColor":"#444"}},"y2":{"field":"e2"},"color":{"field":"v","type":"quantitative","legend":null,"scale":{"domain":[0,20,40,60,80,100],"range":["#2f2f96","#1f5cc0","#0096ff","#00d060","#90e880","#f4f990"]}}}},
{"data":{"values":[
{"k":-0.57,"e":0.575,"v":14},{"k":-0.51,"e":0.575,"v":14},{"k":-0.45,"e":0.575,"v":14},{"k":-0.39,"e":0.575,"v":14},{"k":-0.33,"e":0.575,"v":15},{"k":-0.27,"e":0.575,"v":15},{"k":-0.21,"e":0.575,"v":16},{"k":-0.15,"e":0.575,"v":18},{"k":-0.09,"e":0.575,"v":22},{"k":-0.03,"e":0.575,"v":26},{"k":0.03,"e":0.575,"v":26},{"k":0.09,"e":0.575,"v":24},{"k":0.15,"e":0.575,"v":22},{"k":0.21,"e":0.575,"v":20},{"k":0.27,"e":0.575,"v":18},{"k":0.33,"e":0.575,"v":17},{"k":0.39,"e":0.575,"v":16},{"k":0.45,"e":0.575,"v":15},{"k":0.51,"e":0.575,"v":14},{"k":0.57,"e":0.575,"v":14},
{"k":-0.57,"e":0.625,"v":22},{"k":-0.51,"e":0.625,"v":22},{"k":-0.45,"e":0.625,"v":22},{"k":-0.39,"e":0.625,"v":22},{"k":-0.33,"e":0.625,"v":23},{"k":-0.27,"e":0.625,"v":23},{"k":-0.21,"e":0.625,"v":25},{"k":-0.15,"e":0.625,"v":28},{"k":-0.09,"e":0.625,"v":33},{"k":-0.03,"e":0.625,"v":36},{"k":0.03,"e":0.625,"v":36},{"k":0.09,"e":0.625,"v":35},{"k":0.15,"e":0.625,"v":33},{"k":0.21,"e":0.625,"v":30},{"k":0.27,"e":0.625,"v":26},{"k":0.33,"e":0.625,"v":24},{"k":0.39,"e":0.625,"v":22},{"k":0.45,"e":0.625,"v":22},{"k":0.51,"e":0.625,"v":22},{"k":0.57,"e":0.625,"v":22},
{"k":-0.57,"e":0.675,"v":27},{"k":-0.51,"e":0.675,"v":27},{"k":-0.45,"e":0.675,"v":27},{"k":-0.39,"e":0.675,"v":27},{"k":-0.33,"e":0.675,"v":27},{"k":-0.27,"e":0.675,"v":28},{"k":-0.21,"e":0.675,"v":30},{"k":-0.15,"e":0.675,"v":34},{"k":-0.09,"e":0.675,"v":40},{"k":-0.03,"e":0.675,"v":45},{"k":0.03,"e":0.675,"v":48},{"k":0.09,"e":0.675,"v":50},{"k":0.15,"e":0.675,"v":50},{"k":0.21,"e":0.675,"v":42},{"k":0.27,"e":0.675,"v":34},{"k":0.33,"e":0.675,"v":30},{"k":0.39,"e":0.675,"v":28},{"k":0.45,"e":0.675,"v":27},{"k":0.51,"e":0.675,"v":27},{"k":0.57,"e":0.675,"v":27},
{"k":-0.57,"e":0.725,"v":29},{"k":-0.51,"e":0.725,"v":29},{"k":-0.45,"e":0.725,"v":28},{"k":-0.39,"e":0.725,"v":28},{"k":-0.33,"e":0.725,"v":29},{"k":-0.27,"e":0.725,"v":31},{"k":-0.21,"e":0.725,"v":34},{"k":-0.15,"e":0.725,"v":38},{"k":-0.09,"e":0.725,"v":46},{"k":-0.03,"e":0.725,"v":42},{"k":0.03,"e":0.725,"v":40},{"k":0.09,"e":0.725,"v":42},{"k":0.15,"e":0.725,"v":46},{"k":0.21,"e":0.725,"v":52},{"k":0.27,"e":0.725,"v":42},{"k":0.33,"e":0.725,"v":34},{"k":0.39,"e":0.725,"v":30},{"k":0.45,"e":0.725,"v":28},{"k":0.51,"e":0.725,"v":28},{"k":0.57,"e":0.725,"v":28},
{"k":-0.57,"e":0.775,"v":30},{"k":-0.51,"e":0.775,"v":29},{"k":-0.45,"e":0.775,"v":29},{"k":-0.39,"e":0.775,"v":29},{"k":-0.33,"e":0.775,"v":30},{"k":-0.27,"e":0.775,"v":33},{"k":-0.21,"e":0.775,"v":36},{"k":-0.15,"e":0.775,"v":46},{"k":-0.09,"e":0.775,"v":40},{"k":-0.03,"e":0.775,"v":38},{"k":0.03,"e":0.775,"v":38},{"k":0.09,"e":0.775,"v":38},{"k":0.15,"e":0.775,"v":40},{"k":0.21,"e":0.775,"v":50},{"k":0.27,"e":0.775,"v":50},{"k":0.33,"e":0.775,"v":38},{"k":0.39,"e":0.775,"v":32},{"k":0.45,"e":0.775,"v":30},{"k":0.51,"e":0.775,"v":29},{"k":0.57,"e":0.775,"v":29},
{"k":-0.57,"e":0.825,"v":30},{"k":-0.51,"e":0.825,"v":30},{"k":-0.45,"e":0.825,"v":30},{"k":-0.39,"e":0.825,"v":30},{"k":-0.33,"e":0.825,"v":31},{"k":-0.27,"e":0.825,"v":34},{"k":-0.21,"e":0.825,"v":44},{"k":-0.15,"e":0.825,"v":42},{"k":-0.09,"e":0.825,"v":37},{"k":-0.03,"e":0.825,"v":37},{"k":0.03,"e":0.825,"v":37},{"k":0.09,"e":0.825,"v":37},{"k":0.15,"e":0.825,"v":38},{"k":0.21,"e":0.825,"v":42},{"k":0.27,"e":0.825,"v":54},{"k":0.33,"e":0.825,"v":40},{"k":0.39,"e":0.825,"v":35},{"k":0.45,"e":0.825,"v":32},{"k":0.51,"e":0.825,"v":30},{"k":0.57,"e":0.825,"v":30},
{"k":-0.57,"e":0.875,"v":31},{"k":-0.51,"e":0.875,"v":31},{"k":-0.45,"e":0.875,"v":31},{"k":-0.39,"e":0.875,"v":31},{"k":-0.33,"e":0.875,"v":33},{"k":-0.27,"e":0.875,"v":37},{"k":-0.21,"e":0.875,"v":50},{"k":-0.15,"e":0.875,"v":38},{"k":-0.09,"e":0.875,"v":36},{"k":-0.03,"e":0.875,"v":36},{"k":0.03,"e":0.875,"v":36},{"k":0.09,"e":0.875,"v":36},{"k":0.15,"e":0.875,"v":37},{"k":0.21,"e":0.875,"v":38},{"k":0.27,"e":0.875,"v":48},{"k":0.33,"e":0.875,"v":50},{"k":0.39,"e":0.875,"v":37},{"k":0.45,"e":0.875,"v":33},{"k":0.51,"e":0.875,"v":31},{"k":0.57,"e":0.875,"v":31},
{"k":-0.57,"e":0.925,"v":36},{"k":-0.51,"e":0.925,"v":35},{"k":-0.45,"e":0.925,"v":35},{"k":-0.39,"e":0.925,"v":35},{"k":-0.33,"e":0.925,"v":37},{"k":-0.27,"e":0.925,"v":48},{"k":-0.21,"e":0.925,"v":42},{"k":-0.15,"e":0.925,"v":37},{"k":-0.09,"e":0.925,"v":36},{"k":-0.03,"e":0.925,"v":36},{"k":0.03,"e":0.925,"v":36},{"k":0.09,"e":0.925,"v":36},{"k":0.15,"e":0.925,"v":36},{"k":0.21,"e":0.925,"v":37},{"k":0.27,"e":0.925,"v":40},{"k":0.33,"e":0.925,"v":54},{"k":0.39,"e":0.925,"v":42},{"k":0.45,"e":0.925,"v":36},{"k":0.51,"e":0.925,"v":34},{"k":0.57,"e":0.925,"v":34},
{"k":-0.57,"e":0.975,"v":50},{"k":-0.51,"e":0.975,"v":46},{"k":-0.45,"e":0.975,"v":44},{"k":-0.39,"e":0.975,"v":46},{"k":-0.33,"e":0.975,"v":50},{"k":-0.27,"e":0.975,"v":46},{"k":-0.21,"e":0.975,"v":38},{"k":-0.15,"e":0.975,"v":37},{"k":-0.09,"e":0.975,"v":37},{"k":-0.03,"e":0.975,"v":37},{"k":0.03,"e":0.975,"v":37},{"k":0.09,"e":0.975,"v":37},{"k":0.15,"e":0.975,"v":37},{"k":0.21,"e":0.975,"v":37},{"k":0.27,"e":0.975,"v":38},{"k":0.33,"e":0.975,"v":44},{"k":0.39,"e":0.975,"v":55},{"k":0.45,"e":0.975,"v":46},{"k":0.51,"e":0.975,"v":42},{"k":0.57,"e":0.975,"v":42},
{"k":-0.57,"e":1.025,"v":54},{"k":-0.51,"e":1.025,"v":54},{"k":-0.45,"e":1.025,"v":52},{"k":-0.39,"e":1.025,"v":52},{"k":-0.33,"e":1.025,"v":54},{"k":-0.27,"e":1.025,"v":40},{"k":-0.21,"e":1.025,"v":38},{"k":-0.15,"e":1.025,"v":38},{"k":-0.09,"e":1.025,"v":38},{"k":-0.03,"e":1.025,"v":38},{"k":0.03,"e":1.025,"v":38},{"k":0.09,"e":1.025,"v":38},{"k":0.15,"e":1.025,"v":38},{"k":0.21,"e":1.025,"v":38},{"k":0.27,"e":1.025,"v":38},{"k":0.33,"e":1.025,"v":40},{"k":0.39,"e":1.025,"v":60},{"k":0.45,"e":1.025,"v":62},{"k":0.51,"e":1.025,"v":56},{"k":0.57,"e":1.025,"v":52},
{"k":-0.57,"e":1.075,"v":46},{"k":-0.51,"e":1.075,"v":54},{"k":-0.45,"e":1.075,"v":56},{"k":-0.39,"e":1.075,"v":52},{"k":-0.33,"e":1.075,"v":42},{"k":-0.27,"e":1.075,"v":38},{"k":-0.21,"e":1.075,"v":38},{"k":-0.15,"e":1.075,"v":38},{"k":-0.09,"e":1.075,"v":38},{"k":-0.03,"e":1.075,"v":38},{"k":0.03,"e":1.075,"v":38},{"k":0.09,"e":1.075,"v":38},{"k":0.15,"e":1.075,"v":38},{"k":0.21,"e":1.075,"v":38},{"k":0.27,"e":1.075,"v":38},{"k":0.33,"e":1.075,"v":38},{"k":0.39,"e":1.075,"v":46},{"k":0.45,"e":1.075,"v":64},{"k":0.51,"e":1.075,"v":58},{"k":0.57,"e":1.075,"v":48},
{"k":-0.57,"e":1.125,"v":34},{"k":-0.51,"e":1.125,"v":38},{"k":-0.45,"e":1.125,"v":40},{"k":-0.39,"e":1.125,"v":38},{"k":-0.33,"e":1.125,"v":36},{"k":-0.27,"e":1.125,"v":36},{"k":-0.21,"e":1.125,"v":35},{"k":-0.15,"e":1.125,"v":35},{"k":-0.09,"e":1.125,"v":34},{"k":-0.03,"e":1.125,"v":34},{"k":0.03,"e":1.125,"v":35},{"k":0.09,"e":1.125,"v":35},{"k":0.15,"e":1.125,"v":35},{"k":0.21,"e":1.125,"v":35},{"k":0.27,"e":1.125,"v":35},{"k":0.33,"e":1.125,"v":35},{"k":0.39,"e":1.125,"v":38},{"k":0.45,"e":1.125,"v":50},{"k":0.51,"e":1.125,"v":44},{"k":0.57,"e":1.125,"v":36},
{"k":-0.57,"e":1.175,"v":18},{"k":-0.51,"e":1.175,"v":20},{"k":-0.45,"e":1.175,"v":22},{"k":-0.39,"e":1.175,"v":22},{"k":-0.33,"e":1.175,"v":22},{"k":-0.27,"e":1.175,"v":21},{"k":-0.21,"e":1.175,"v":20},{"k":-0.15,"e":1.175,"v":20},{"k":-0.09,"e":1.175,"v":20},{"k":-0.03,"e":1.175,"v":20},{"k":0.03,"e":1.175,"v":20},{"k":0.09,"e":1.175,"v":20},{"k":0.15,"e":1.175,"v":20},{"k":0.21,"e":1.175,"v":20},{"k":0.27,"e":1.175,"v":20},{"k":0.33,"e":1.175,"v":21},{"k":0.39,"e":1.175,"v":26},{"k":0.45,"e":1.175,"v":30},{"k":0.51,"e":1.175,"v":28},{"k":0.57,"e":1.175,"v":22},
{"k":-0.57,"e":1.225,"v":13},{"k":-0.51,"e":1.225,"v":13},{"k":-0.45,"e":1.225,"v":13},{"k":-0.39,"e":1.225,"v":14},{"k":-0.33,"e":1.225,"v":14},{"k":-0.27,"e":1.225,"v":14},{"k":-0.21,"e":1.225,"v":13},{"k":-0.15,"e":1.225,"v":13},{"k":-0.09,"e":1.225,"v":13},{"k":-0.03,"e":1.225,"v":13},{"k":0.03,"e":1.225,"v":13},{"k":0.09,"e":1.225,"v":13},{"k":0.15,"e":1.225,"v":13},{"k":0.21,"e":1.225,"v":14},{"k":0.27,"e":1.225,"v":14},{"k":0.33,"e":1.225,"v":14},{"k":0.39,"e":1.225,"v":15},{"k":0.45,"e":1.225,"v":15},{"k":0.51,"e":1.225,"v":15},{"k":0.57,"e":1.225,"v":14}
]},"mark":{"type":"rect","width":16.8,"height":7.7},"encoding":{"x":{"field":"k","type":"quantitative","scale":{"domain":[-0.6,0.6000001],"range":[125.5,451]},"axis":null},"y":{"field":"e","type":"quantitative","scale":{"domain":[0,2.5],"range":[669,1031]},"axis":null},"color":{"field":"v","type":"quantitative","legend":null,"scale":{"domain":[0,20,40,60,80,100],"range":["#2f2f96","#1f5cc0","#0096ff","#00d060","#90e880","#f4f990"]}}}},
{"data":{"values":[
{"k":-0.56,"e":2.075,"v":46},{"k":-0.48,"e":2.075,"v":50},{"k":-0.4,"e":2.075,"v":50},{"k":-0.32,"e":2.075,"v":48},{"k":-0.24,"e":2.075,"v":45},{"k":-0.16,"e":2.075,"v":42},{"k":-0.08,"e":2.075,"v":42},{"k":0,"e":2.075,"v":44},{"k":0.08,"e":2.075,"v":44},{"k":0.16,"e":2.075,"v":42},{"k":0.24,"e":2.075,"v":46},{"k":0.32,"e":2.075,"v":42},{"k":0.4,"e":2.075,"v":42},{"k":0.48,"e":2.075,"v":40},{"k":0.56,"e":2.075,"v":36},
{"k":-0.56,"e":2.125,"v":61},{"k":-0.48,"e":2.125,"v":60},{"k":-0.4,"e":2.125,"v":60},{"k":-0.32,"e":2.125,"v":60},{"k":-0.24,"e":2.125,"v":60},{"k":-0.16,"e":2.125,"v":60},{"k":-0.08,"e":2.125,"v":60},{"k":0,"e":2.125,"v":60},{"k":0.08,"e":2.125,"v":60},{"k":0.16,"e":2.125,"v":60},{"k":0.24,"e":2.125,"v":60},{"k":0.32,"e":2.125,"v":60},{"k":0.4,"e":2.125,"v":60},{"k":0.48,"e":2.125,"v":60},{"k":0.56,"e":2.125,"v":58},
{"k":-0.56,"e":2.175,"v":68},{"k":-0.48,"e":2.175,"v":68},{"k":-0.4,"e":2.175,"v":68},{"k":-0.32,"e":2.175,"v":67},{"k":-0.24,"e":2.175,"v":68},{"k":-0.16,"e":2.175,"v":68},{"k":-0.08,"e":2.175,"v":68},{"k":0,"e":2.175,"v":69},{"k":0.08,"e":2.175,"v":68},{"k":0.16,"e":2.175,"v":68},{"k":0.24,"e":2.175,"v":69},{"k":0.32,"e":2.175,"v":68},{"k":0.4,"e":2.175,"v":68},{"k":0.48,"e":2.175,"v":67},{"k":0.56,"e":2.175,"v":66},
{"k":-0.56,"e":2.225,"v":75},{"k":-0.48,"e":2.225,"v":74},{"k":-0.4,"e":2.225,"v":76},{"k":-0.32,"e":2.225,"v":75},{"k":-0.24,"e":2.225,"v":76},{"k":-0.16,"e":2.225,"v":75},{"k":-0.08,"e":2.225,"v":75},{"k":0,"e":2.225,"v":76},{"k":0.08,"e":2.225,"v":75},{"k":0.16,"e":2.225,"v":76},{"k":0.24,"e":2.225,"v":75},{"k":0.32,"e":2.225,"v":76},{"k":0.4,"e":2.225,"v":75},{"k":0.48,"e":2.225,"v":74},{"k":0.56,"e":2.225,"v":73},
{"k":-0.56,"e":2.275,"v":80},{"k":-0.48,"e":2.275,"v":80},{"k":-0.4,"e":2.275,"v":81},{"k":-0.32,"e":2.275,"v":80},{"k":-0.24,"e":2.275,"v":81},{"k":-0.16,"e":2.275,"v":80},{"k":-0.08,"e":2.275,"v":81},{"k":0,"e":2.275,"v":81},{"k":0.08,"e":2.275,"v":80},{"k":0.16,"e":2.275,"v":82},{"k":0.24,"e":2.275,"v":81},{"k":0.32,"e":2.275,"v":80},{"k":0.4,"e":2.275,"v":80},{"k":0.48,"e":2.275,"v":79},{"k":0.56,"e":2.275,"v":78},
{"k":-0.56,"e":2.325,"v":84},{"k":-0.48,"e":2.325,"v":85},{"k":-0.4,"e":2.325,"v":83},{"k":-0.32,"e":2.325,"v":85},{"k":-0.24,"e":2.325,"v":86},{"k":-0.16,"e":2.325,"v":84},{"k":-0.08,"e":2.325,"v":85},{"k":0,"e":2.325,"v":86},{"k":0.08,"e":2.325,"v":86},{"k":0.16,"e":2.325,"v":85},{"k":0.24,"e":2.325,"v":87},{"k":0.32,"e":2.325,"v":85},{"k":0.4,"e":2.325,"v":84},{"k":0.48,"e":2.325,"v":85},{"k":0.56,"e":2.325,"v":82},
{"k":-0.56,"e":2.375,"v":87},{"k":-0.48,"e":2.375,"v":89},{"k":-0.4,"e":2.375,"v":88},{"k":-0.32,"e":2.375,"v":90},{"k":-0.24,"e":2.375,"v":88},{"k":-0.16,"e":2.375,"v":90},{"k":-0.08,"e":2.375,"v":89},{"k":0,"e":2.375,"v":90},{"k":0.08,"e":2.375,"v":88},{"k":0.16,"e":2.375,"v":90},{"k":0.24,"e":2.375,"v":88},{"k":0.32,"e":2.375,"v":90},{"k":0.4,"e":2.375,"v":91},{"k":0.48,"e":2.375,"v":88},{"k":0.56,"e":2.375,"v":85},
{"k":-0.56,"e":2.425,"v":90},{"k":-0.48,"e":2.425,"v":93},{"k":-0.4,"e":2.425,"v":91},{"k":-0.32,"e":2.425,"v":94},{"k":-0.24,"e":2.425,"v":92},{"k":-0.16,"e":2.425,"v":92},{"k":-0.08,"e":2.425,"v":94},{"k":0,"e":2.425,"v":93},{"k":0.08,"e":2.425,"v":92},{"k":0.16,"e":2.425,"v":91},{"k":0.24,"e":2.425,"v":94},{"k":0.32,"e":2.425,"v":95},{"k":0.4,"e":2.425,"v":92},{"k":0.48,"e":2.425,"v":90},{"k":0.56,"e":2.425,"v":87},
{"k":-0.56,"e":2.475,"v":88},{"k":-0.48,"e":2.475,"v":92},{"k":-0.4,"e":2.475,"v":94},{"k":-0.32,"e":2.475,"v":96},{"k":-0.24,"e":2.475,"v":93},{"k":-0.16,"e":2.475,"v":95},{"k":-0.08,"e":2.475,"v":93},{"k":0,"e":2.475,"v":94},{"k":0.08,"e":2.475,"v":96},{"k":0.16,"e":2.475,"v":92},{"k":0.24,"e":2.475,"v":95},{"k":0.32,"e":2.475,"v":94},{"k":0.4,"e":2.475,"v":96},{"k":0.48,"e":2.475,"v":90},{"k":0.56,"e":2.475,"v":86}
]},"mark":{"type":"rect","width":22.2,"height":7.7},"encoding":{"x":{"field":"k","type":"quantitative","scale":{"domain":[-0.6,0.6000001],"range":[125.5,451]},"axis":null},"y":{"field":"e","type":"quantitative","scale":{"domain":[0,2.5],"range":[669,1031]},"axis":null},"color":{"field":"v","type":"quantitative","legend":null,"scale":{"domain":[0,20,40,60,80,100],"range":["#2f2f96","#1f5cc0","#0096ff","#00d060","#90e880","#f4f990"]}}}},
{"data":{"values":[{"k":1,"e":1}]},"mark":{"type":"point","opacity":0},"encoding":{"x":{"field":"k","type":"quantitative","scale":{"domain":[-0.6,0.6000001],"range":[125.5,451]},"axis":{"orient":"top","offset":-669,"values":{"signal":"sequence(-0.6,0.6001,0.0125)"},"labels":false,"title":null,"tickSize":{"condition":[{"test":"abs(datum.value*5-round(datum.value*5))<0.01","value":20},{"test":"abs(datum.value*10-round(datum.value*10))<0.01","value":15}],"value":11},"domainColor":"#777","domainWidth":2,"tickColor":"#444","zindex":1}},"y":{"field":"e","type":"quantitative","scale":{"domain":[0,2.5],"range":[669,1031]},"axis":{"orient":"right","offset":-523,"values":[0,0.1,0.2,0.3,0.4,0.5,0.6,0.7,0.8,0.9,1,1.1,1.2,1.3,1.4,1.5,1.6,1.7,1.8,1.9,2,2.1,2.2,2.3,2.4,2.5],"labels":false,"title":null,"tickSize":{"condition":{"test":"abs(datum.value*2-round(datum.value*2))<0.01","value":20},"value":10},"domainColor":"#888","domainWidth":2,"tickColor":"#444","zindex":1}}}},
{"data":{"values":[{"k":0.002,"e":0,"e2":2.49},{"k":0.452,"e":0,"e2":2.47}]},"mark":{"type":"rule","stroke":"#000","strokeWidth":2,"strokeDash":[5,3.5]},"encoding":{"x":{"field":"k","type":"quantitative","scale":{"domain":[-0.6,0.6000001],"range":[125.5,451]},"axis":null},"y":{"field":"e","type":"quantitative","scale":{"domain":[0,2.5],"range":[669,1031]},"axis":null},"y2":{"field":"e2"}}},
{"data":{"values":[{"k":0.014,"e":-0.207,"t":"Γ"},{"k":0.452,"e":-0.207,"t":"Y"}]},"mark":{"type":"text","fontSize":25,"fill":"#222","baseline":"alphabetic"},"encoding":{"x":{"field":"k","type":"quantitative","scale":{"domain":[-0.6,0.6000001],"range":[125.5,451]},"axis":null},"y":{"field":"e","type":"quantitative","scale":{"domain":[0,2.5],"range":[669,1031]},"axis":null},"text":{"field":"t"}}},
{"data":{"values":[{"k":-0.16,"e":3.149,"t":"k"},{"k":-0.018,"e":3.149,"t":"(Å"},{"k":0.135,"e":3.149,"t":")"}]},"mark":{"type":"text","fontSize":25,"fill":"#222","baseline":"alphabetic","align":"left"},"encoding":{"x":{"field":"k","type":"quantitative","scale":{"domain":[-0.6,0.6000001],"range":[125.5,451]},"axis":null},"y":{"field":"e","type":"quantitative","scale":{"domain":[0,2.5],"range":[669,1031]},"axis":null},"text":{"field":"t"}}},
{"data":{"values":[{"k":-0.104,"e":3.19,"t":"//"},{"k":0.069,"e":3.023,"t":"-1"}]},"mark":{"type":"text","fontSize":15,"fill":"#222","baseline":"alphabetic","align":"left"},"encoding":{"x":{"field":"k","type":"quantitative","scale":{"domain":[-0.6,0.6000001],"range":[125.5,451]},"axis":null},"y":{"field":"e","type":"quantitative","scale":{"domain":[0,2.5],"range":[669,1031]},"axis":null},"text":{"field":"t"}}},
{"data":{"values":[{"k":-0.587,"k2":-0.41,"e":0.028,"e2":0.435}]},"mark":{"type":"rect","fill":"white","stroke":"#111","strokeWidth":2},"encoding":{"x":{"field":"k","type":"quantitative","scale":{"domain":[-0.6,0.6000001],"range":[125.5,451]},"axis":null},"x2":{"field":"k2"},"y":{"field":"e","type":"quantitative","scale":{"domain":[0,2.5],"range":[669,1031]},"axis":null},"y2":{"field":"e2"}}},
{"data":{"values":[{"k":-0.499,"e":0.249,"t":"c"}]},"mark":{"type":"text","font":"Liberation Serif","fontWeight":"bold","fontSize":32,"fill":"#000","baseline":"middle"},"encoding":{"x":{"field":"k","type":"quantitative","scale":{"domain":[-0.6,0.6000001],"range":[125.5,451]},"axis":null},"y":{"field":"e","type":"quantitative","scale":{"domain":[0,2.5],"range":[669,1031]},"axis":null},"text":{"field":"t"}}},

{"data":{"values":[{"e":0,"e2":0.085,"v":2},{"e":0.08,"e2":0.355,"v":0},{"e":0.35,"e2":0.505,"v":2},{"e":0.5,"e2":0.56,"v":6},{"e":1.2,"e2":1.305,"v":12},{"e":1.3,"e2":1.405,"v":9},{"e":1.4,"e2":1.605,"v":7},{"e":1.6,"e2":1.705,"v":9},{"e":1.7,"e2":1.805,"v":11},{"e":1.8,"e2":1.905,"v":13},{"e":1.9,"e2":1.995,"v":17},{"e":1.99,"e2":2.035,"v":24},{"e":2.03,"e2":2.06,"v":36}]},"mark":{"type":"rect"},"encoding":{"x":{"datum":-0.6,"type":"quantitative","scale":{"domain":[-0.6,0.6000001],"range":[544.3,870]},"axis":{"orient":"bottom","offset":-108,"values":{"signal":"sequence(-0.6,0.6001,0.0125)"},"labelExpr":"abs(datum.value*5-round(datum.value*5))<0.01?(datum.value<-0.001?'-':'')+format(abs(datum.value),'.1f'):''","tickSize":{"condition":[{"test":"abs(datum.value*5-round(datum.value*5))<0.01","value":20},{"test":"abs(datum.value*10-round(datum.value*10))<0.01","value":15}],"value":11},"labelFontSize":24.7,"labelPadding":13.5,"title":null,"domainColor":"#777","domainWidth":2,"tickColor":"#444"}},"x2":{"datum":0.6},"y":{"field":"e","type":"quantitative","scale":{"domain":[0,2.5],"range":[664.5,1026]},"axis":{"orient":"left","offset":-544.3,"values":[0,0.1,0.2,0.3,0.4,0.5,0.6,0.7,0.8,0.9,1,1.1,1.2,1.3,1.4,1.5,1.6,1.7,1.8,1.9,2,2.1,2.2,2.3,2.4,2.5],"labelExpr":"abs(datum.value*2-round(datum.value*2))<0.01?format(datum.value,'.1f'):''","tickSize":{"condition":{"test":"abs(datum.value*2-round(datum.value*2))<0.01","value":20},"value":10},"labelFontSize":24.7,"labelPadding":9,"title":null,"domainColor":"#777","domainWidth":2,"tickColor":"#444"}},"y2":{"field":"e2"},"color":{"field":"v","type":"quantitative","legend":null,"scale":{"domain":[0,20,40,60,80,100],"range":["#2f2f96","#1f5cc0","#0096ff","#00d060","#90e880","#f4f990"]}}}},
{"data":{"values":[
{"k":-0.56,"e":0.575,"v":10},{"k":-0.48,"e":0.575,"v":10},{"k":-0.4,"e":0.575,"v":10},{"k":-0.32,"e":0.575,"v":11},{"k":-0.24,"e":0.575,"v":11},{"k":-0.16,"e":0.575,"v":12},{"k":-0.08,"e":0.575,"v":12},{"k":0,"e":0.575,"v":12},{"k":0.08,"e":0.575,"v":12},{"k":0.16,"e":0.575,"v":14},{"k":0.24,"e":0.575,"v":16},{"k":0.32,"e":0.575,"v":16},{"k":0.4,"e":0.575,"v":15},{"k":0.48,"e":0.575,"v":14},{"k":0.56,"e":0.575,"v":14},
{"k":-0.56,"e":0.625,"v":18},{"k":-0.48,"e":0.625,"v":18},{"k":-0.4,"e":0.625,"v":18},{"k":-0.32,"e":0.625,"v":19},{"k":-0.24,"e":0.625,"v":20},{"k":-0.16,"e":0.625,"v":21},{"k":-0.08,"e":0.625,"v":22},{"k":0,"e":0.625,"v":24},{"k":0.08,"e":0.625,"v":24},{"k":0.16,"e":0.625,"v":30},{"k":0.24,"e":0.625,"v":32},{"k":0.32,"e":0.625,"v":33},{"k":0.4,"e":0.625,"v":32},{"k":0.48,"e":0.625,"v":30},{"k":0.56,"e":0.625,"v":28},
{"k":-0.56,"e":0.675,"v":26},{"k":-0.48,"e":0.675,"v":27},{"k":-0.4,"e":0.675,"v":27},{"k":-0.32,"e":0.675,"v":28},{"k":-0.24,"e":0.675,"v":29},{"k":-0.16,"e":0.675,"v":30},{"k":-0.08,"e":0.675,"v":32},{"k":0,"e":0.675,"v":35},{"k":0.08,"e":0.675,"v":35},{"k":0.16,"e":0.675,"v":38},{"k":0.24,"e":0.675,"v":48},{"k":0.32,"e":0.675,"v":54},{"k":0.4,"e":0.675,"v":44},{"k":0.48,"e":0.675,"v":40},{"k":0.56,"e":0.675,"v":36},
{"k":-0.56,"e":0.725,"v":27},{"k":-0.48,"e":0.725,"v":29},{"k":-0.4,"e":0.725,"v":30},{"k":-0.32,"e":0.725,"v":30},{"k":-0.24,"e":0.725,"v":31},{"k":-0.16,"e":0.725,"v":33},{"k":-0.08,"e":0.725,"v":34},{"k":0,"e":0.725,"v":37},{"k":0.08,"e":0.725,"v":37},{"k":0.16,"e":0.725,"v":39},{"k":0.24,"e":0.725,"v":52},{"k":0.32,"e":0.725,"v":55},{"k":0.4,"e":0.725,"v":46},{"k":0.48,"e":0.725,"v":42},{"k":0.56,"e":0.725,"v":37},
{"k":-0.56,"e":0.775,"v":28},{"k":-0.48,"e":0.775,"v":30},{"k":-0.4,"e":0.775,"v":31},{"k":-0.32,"e":0.775,"v":32},{"k":-0.24,"e":0.775,"v":33},{"k":-0.16,"e":0.775,"v":34},{"k":-0.08,"e":0.775,"v":35},{"k":0,"e":0.775,"v":37},{"k":0.08,"e":0.775,"v":37},{"k":0.16,"e":0.775,"v":40},{"k":0.24,"e":0.775,"v":50},{"k":0.32,"e":0.775,"v":54},{"k":0.4,"e":0.775,"v":48},{"k":0.48,"e":0.775,"v":44},{"k":0.56,"e":0.775,"v":38},
{"k":-0.56,"e":0.825,"v":28},{"k":-0.48,"e":0.825,"v":30},{"k":-0.4,"e":0.825,"v":33},{"k":-0.32,"e":0.825,"v":34},{"k":-0.24,"e":0.825,"v":35},{"k":-0.16,"e":0.825,"v":36},{"k":-0.08,"e":0.825,"v":36},{"k":0,"e":0.825,"v":38},{"k":0.08,"e":0.825,"v":38},{"k":0.16,"e":0.825,"v":41},{"k":0.24,"e":0.825,"v":50},{"k":0.32,"e":0.825,"v":52},{"k":0.4,"e":0.825,"v":50},{"k":0.48,"e":0.825,"v":46},{"k":0.56,"e":0.825,"v":39},
{"k":-0.56,"e":0.875,"v":29},{"k":-0.48,"e":0.875,"v":33},{"k":-0.4,"e":0.875,"v":35},{"k":-0.32,"e":0.875,"v":36},{"k":-0.24,"e":0.875,"v":37},{"k":-0.16,"e":0.875,"v":37},{"k":-0.08,"e":0.875,"v":38},{"k":0,"e":0.875,"v":38},{"k":0.08,"e":0.875,"v":39},{"k":0.16,"e":0.875,"v":43},{"k":0.24,"e":0.875,"v":50},{"k":0.32,"e":0.875,"v":50},{"k":0.4,"e":0.875,"v":52},{"k":0.48,"e":0.875,"v":48},{"k":0.56,"e":0.875,"v":40},
{"k":-0.56,"e":0.925,"v":30},{"k":-0.48,"e":0.925,"v":35},{"k":-0.4,"e":0.925,"v":37},{"k":-0.32,"e":0.925,"v":38},{"k":-0.24,"e":0.925,"v":38},{"k":-0.16,"e":0.925,"v":38},{"k":-0.08,"e":0.925,"v":39},{"k":0,"e":0.925,"v":39},{"k":0.08,"e":0.925,"v":41},{"k":0.16,"e":0.925,"v":45},{"k":0.24,"e":0.925,"v":52},{"k":0.32,"e":0.925,"v":50},{"k":0.4,"e":0.925,"v":54},{"k":0.48,"e":0.925,"v":50},{"k":0.56,"e":0.925,"v":41},
{"k":-0.56,"e":0.975,"v":32},{"k":-0.48,"e":0.975,"v":37},{"k":-0.4,"e":0.975,"v":39},{"k":-0.32,"e":0.975,"v":39},{"k":-0.24,"e":0.975,"v":39},{"k":-0.16,"e":0.975,"v":40},{"k":-0.08,"e":0.975,"v":39},{"k":0,"e":0.975,"v":40},{"k":0.08,"e":0.975,"v":43},{"k":0.16,"e":0.975,"v":46},{"k":0.24,"e":0.975,"v":56},{"k":0.32,"e":0.975,"v":54},{"k":0.4,"e":0.975,"v":60},{"k":0.48,"e":0.975,"v":58},{"k":0.56,"e":0.975,"v":44},
{"k":-0.56,"e":1.025,"v":33},{"k":-0.48,"e":1.025,"v":38},{"k":-0.4,"e":1.025,"v":40},{"k":-0.32,"e":1.025,"v":40},{"k":-0.24,"e":1.025,"v":40},{"k":-0.16,"e":1.025,"v":40},{"k":-0.08,"e":1.025,"v":41},{"k":0,"e":1.025,"v":42},{"k":0.08,"e":1.025,"v":44},{"k":0.16,"e":1.025,"v":46},{"k":0.24,"e":1.025,"v":58},{"k":0.32,"e":1.025,"v":52},{"k":0.4,"e":1.025,"v":62},{"k":0.48,"e":1.025,"v":58},{"k":0.56,"e":1.025,"v":42},
{"k":-0.56,"e":1.075,"v":32},{"k":-0.48,"e":1.075,"v":38},{"k":-0.4,"e":1.075,"v":40},{"k":-0.32,"e":1.075,"v":40},{"k":-0.24,"e":1.075,"v":39},{"k":-0.16,"e":1.075,"v":40},{"k":-0.08,"e":1.075,"v":40},{"k":0,"e":1.075,"v":41},{"k":0.08,"e":1.075,"v":42},{"k":0.16,"e":1.075,"v":44},{"k":0.24,"e":1.075,"v":52},{"k":0.32,"e":1.075,"v":46},{"k":0.4,"e":1.075,"v":52},{"k":0.48,"e":1.075,"v":48},{"k":0.56,"e":1.075,"v":40},
{"k":-0.56,"e":1.125,"v":28},{"k":-0.48,"e":1.125,"v":33},{"k":-0.4,"e":1.125,"v":36},{"k":-0.32,"e":1.125,"v":36},{"k":-0.24,"e":1.125,"v":36},{"k":-0.16,"e":1.125,"v":36},{"k":-0.08,"e":1.125,"v":36},{"k":0,"e":1.125,"v":36},{"k":0.08,"e":1.125,"v":37},{"k":0.16,"e":1.125,"v":38},{"k":0.24,"e":1.125,"v":38},{"k":0.32,"e":1.125,"v":38},{"k":0.4,"e":1.125,"v":38},{"k":0.48,"e":1.125,"v":37},{"k":0.56,"e":1.125,"v":34},
{"k":-0.56,"e":1.175,"v":18},{"k":-0.48,"e":1.175,"v":20},{"k":-0.4,"e":1.175,"v":20},{"k":-0.32,"e":1.175,"v":20},{"k":-0.24,"e":1.175,"v":20},{"k":-0.16,"e":1.175,"v":20},{"k":-0.08,"e":1.175,"v":20},{"k":0,"e":1.175,"v":20},{"k":0.08,"e":1.175,"v":20},{"k":0.16,"e":1.175,"v":20},{"k":0.24,"e":1.175,"v":20},{"k":0.32,"e":1.175,"v":20},{"k":0.4,"e":1.175,"v":20},{"k":0.48,"e":1.175,"v":20},{"k":0.56,"e":1.175,"v":19},
{"k":-0.56,"e":1.225,"v":13},{"k":-0.48,"e":1.225,"v":14},{"k":-0.4,"e":1.225,"v":14},{"k":-0.32,"e":1.225,"v":14},{"k":-0.24,"e":1.225,"v":14},{"k":-0.16,"e":1.225,"v":14},{"k":-0.08,"e":1.225,"v":14},{"k":0,"e":1.225,"v":14},{"k":0.08,"e":1.225,"v":14},{"k":0.16,"e":1.225,"v":14},{"k":0.24,"e":1.225,"v":14},{"k":0.32,"e":1.225,"v":14},{"k":0.4,"e":1.225,"v":14},{"k":0.48,"e":1.225,"v":14},{"k":0.56,"e":1.225,"v":14},
{"k":-0.56,"e":2.075,"v":34},{"k":-0.48,"e":2.075,"v":36},{"k":-0.4,"e":2.075,"v":38},{"k":-0.32,"e":2.075,"v":38},{"k":-0.24,"e":2.075,"v":40},{"k":-0.16,"e":2.075,"v":42},{"k":-0.08,"e":2.075,"v":44},{"k":0,"e":2.075,"v":50},{"k":0.08,"e":2.075,"v":46},{"k":0.16,"e":2.075,"v":44},{"k":0.24,"e":2.075,"v":44},{"k":0.32,"e":2.075,"v":44},{"k":0.4,"e":2.075,"v":46},{"k":0.48,"e":2.075,"v":42},{"k":0.56,"e":2.075,"v":38},
{"k":-0.56,"e":2.125,"v":60},{"k":-0.48,"e":2.125,"v":60},{"k":-0.4,"e":2.125,"v":60},{"k":-0.32,"e":2.125,"v":60},{"k":-0.24,"e":2.125,"v":60},{"k":-0.16,"e":2.125,"v":60},{"k":-0.08,"e":2.125,"v":60},{"k":0,"e":2.125,"v":60},{"k":0.08,"e":2.125,"v":60},{"k":0.16,"e":2.125,"v":60},{"k":0.24,"e":2.125,"v":60},{"k":0.32,"e":2.125,"v":60},{"k":0.4,"e":2.125,"v":60},{"k":0.48,"e":2.125,"v":60},{"k":0.56,"e":2.125,"v":60},
{"k":-0.56,"e":2.175,"v":66},{"k":-0.48,"e":2.175,"v":67},{"k":-0.4,"e":2.175,"v":68},{"k":-0.32,"e":2.175,"v":68},{"k":-0.24,"e":2.175,"v":69},{"k":-0.16,"e":2.175,"v":69},{"k":-0.08,"e":2.175,"v":70},{"k":0,"e":2.175,"v":70},{"k":0.08,"e":2.175,"v":70},{"k":0.16,"e":2.175,"v":70},{"k":0.24,"e":2.175,"v":69},{"k":0.32,"e":2.175,"v":69},{"k":0.4,"e":2.175,"v":68},{"k":0.48,"e":2.175,"v":68},{"k":0.56,"e":2.175,"v":66},
{"k":-0.56,"e":2.225,"v":73},{"k":-0.48,"e":2.225,"v":74},{"k":-0.4,"e":2.225,"v":75},{"k":-0.32,"e":2.225,"v":76},{"k":-0.24,"e":2.225,"v":77},{"k":-0.16,"e":2.225,"v":78},{"k":-0.08,"e":2.225,"v":79},{"k":0,"e":2.225,"v":80},{"k":0.08,"e":2.225,"v":80},{"k":0.16,"e":2.225,"v":79},{"k":0.24,"e":2.225,"v":78},{"k":0.32,"e":2.225,"v":77},{"k":0.4,"e":2.225,"v":76},{"k":0.48,"e":2.225,"v":75},{"k":0.56,"e":2.225,"v":74},
{"k":-0.56,"e":2.275,"v":78},{"k":-0.48,"e":2.275,"v":80},{"k":-0.4,"e":2.275,"v":81},{"k":-0.32,"e":2.275,"v":82},{"k":-0.24,"e":2.275,"v":83},{"k":-0.16,"e":2.275,"v":85},{"k":-0.08,"e":2.275,"v":85},{"k":0,"e":2.275,"v":87},{"k":0.08,"e":2.275,"v":88},{"k":0.16,"e":2.275,"v":86},{"k":0.24,"e":2.275,"v":85},{"k":0.32,"e":2.275,"v":84},{"k":0.4,"e":2.275,"v":83},{"k":0.48,"e":2.275,"v":81},{"k":0.56,"e":2.275,"v":80},
{"k":-0.56,"e":2.325,"v":82},{"k":-0.48,"e":2.325,"v":85},{"k":-0.4,"e":2.325,"v":86},{"k":-0.32,"e":2.325,"v":87},{"k":-0.24,"e":2.325,"v":88},{"k":-0.16,"e":2.325,"v":88},{"k":-0.08,"e":2.325,"v":90},{"k":0,"e":2.325,"v":90},{"k":0.08,"e":2.325,"v":92},{"k":0.16,"e":2.325,"v":90},{"k":0.24,"e":2.325,"v":89},{"k":0.32,"e":2.325,"v":90},{"k":0.4,"e":2.325,"v":86},{"k":0.48,"e":2.325,"v":85},{"k":0.56,"e":2.325,"v":84},
{"k":-0.56,"e":2.375,"v":86},{"k":-0.48,"e":2.375,"v":88},{"k":-0.4,"e":2.375,"v":90},{"k":-0.32,"e":2.375,"v":90},{"k":-0.24,"e":2.375,"v":91},{"k":-0.16,"e":2.375,"v":91},{"k":-0.08,"e":2.375,"v":93},{"k":0,"e":2.375,"v":94},{"k":0.08,"e":2.375,"v":96},{"k":0.16,"e":2.375,"v":94},{"k":0.24,"e":2.375,"v":92},{"k":0.32,"e":2.375,"v":94},{"k":0.4,"e":2.375,"v":90},{"k":0.48,"e":2.375,"v":88},{"k":0.56,"e":2.375,"v":86},
{"k":-0.56,"e":2.425,"v":88},{"k":-0.48,"e":2.425,"v":91},{"k":-0.4,"e":2.425,"v":93},{"k":-0.32,"e":2.425,"v":92},{"k":-0.24,"e":2.425,"v":94},{"k":-0.16,"e":2.425,"v":93},{"k":-0.08,"e":2.425,"v":95},{"k":0,"e":2.425,"v":96},{"k":0.08,"e":2.425,"v":98},{"k":0.16,"e":2.425,"v":97},{"k":0.24,"e":2.425,"v":95},{"k":0.32,"e":2.425,"v":96},{"k":0.4,"e":2.425,"v":92},{"k":0.48,"e":2.425,"v":91},{"k":0.56,"e":2.425,"v":90},
{"k":-0.56,"e":2.475,"v":90},{"k":-0.48,"e":2.475,"v":92},{"k":-0.4,"e":2.475,"v":94},{"k":-0.32,"e":2.475,"v":93},{"k":-0.24,"e":2.475,"v":95},{"k":-0.16,"e":2.475,"v":94},{"k":-0.08,"e":2.475,"v":96},{"k":0,"e":2.475,"v":97},{"k":0.08,"e":2.475,"v":100},{"k":0.16,"e":2.475,"v":98},{"k":0.24,"e":2.475,"v":97},{"k":0.32,"e":2.475,"v":96},{"k":0.4,"e":2.475,"v":94},{"k":0.48,"e":2.475,"v":92},{"k":0.56,"e":2.475,"v":91}
]},"mark":{"type":"rect","width":22.2,"height":7.7},"encoding":{"x":{"field":"k","type":"quantitative","scale":{"domain":[-0.6,0.6000001],"range":[544.3,870]},"axis":null},"y":{"field":"e","type":"quantitative","scale":{"domain":[0,2.5],"range":[664.5,1026]},"axis":null},"color":{"field":"v","type":"quantitative","legend":null,"scale":{"domain":[0,20,40,60,80,100],"range":["#2f2f96","#1f5cc0","#0096ff","#00d060","#90e880","#f4f990"]}}}},
{"data":{"values":[{"k":1,"e":1}]},"mark":{"type":"point","opacity":0},"encoding":{"x":{"field":"k","type":"quantitative","scale":{"domain":[-0.6,0.6000001],"range":[544.3,870]},"axis":{"orient":"top","offset":-664.5,"values":{"signal":"sequence(-0.6,0.6001,0.0125)"},"labels":false,"title":null,"tickSize":{"condition":[{"test":"abs(datum.value*5-round(datum.value*5))<0.01","value":20},{"test":"abs(datum.value*10-round(datum.value*10))<0.01","value":15}],"value":11},"domainColor":"#777","domainWidth":2,"tickColor":"#444","zindex":1}},"y":{"field":"e","type":"quantitative","scale":{"domain":[0,2.5],"range":[664.5,1026]},"axis":{"orient":"right","offset":-104,"values":[0,0.1,0.2,0.3,0.4,0.5,0.6,0.7,0.8,0.9,1,1.1,1.2,1.3,1.4,1.5,1.6,1.7,1.8,1.9,2,2.1,2.2,2.3,2.4,2.5],"labels":false,"title":null,"tickSize":{"condition":{"test":"abs(datum.value*2-round(datum.value*2))<0.01","value":20},"value":10},"domainColor":"#888","domainWidth":2,"tickColor":"#444","zindex":1}}}},
{"data":{"values":[{"k":0.002,"e":0,"e2":2.47},{"k":0.238,"e":0,"e2":2.45}]},"mark":{"type":"rule","stroke":"#000","strokeWidth":2,"strokeDash":[5,3.5]},"encoding":{"x":{"field":"k","type":"quantitative","scale":{"domain":[-0.6,0.6000001],"range":[544.3,870]},"axis":null},"y":{"field":"e","type":"quantitative","scale":{"domain":[0,2.5],"range":[664.5,1026]},"axis":null},"y2":{"field":"e2"}}},
{"data":{"values":[{"k":0.017,"e":-0.174,"t":"Γ"},{"k":0.238,"e":-0.174,"t":"X"}]},"mark":{"type":"text","fontSize":25,"fill":"#222","baseline":"alphabetic"},"encoding":{"x":{"field":"k","type":"quantitative","scale":{"domain":[-0.6,0.6000001],"range":[544.3,870]},"axis":null},"y":{"field":"e","type":"quantitative","scale":{"domain":[0,2.5],"range":[664.5,1026]},"axis":null},"text":{"field":"t"}}},
{"data":{"values":[{"k":-0.162,"e":3.198,"t":"k"},{"k":-0.015,"e":3.198,"t":"(Å"},{"k":0.138,"e":3.198,"t":")"}]},"mark":{"type":"text","fontSize":25,"fill":"#222","baseline":"alphabetic","align":"left"},"encoding":{"x":{"field":"k","type":"quantitative","scale":{"domain":[-0.6,0.6000001],"range":[544.3,870]},"axis":null},"y":{"field":"e","type":"quantitative","scale":{"domain":[0,2.5],"range":[664.5,1026]},"axis":null},"text":{"field":"t"}}},
{"data":{"values":[{"k":-0.094,"e":3.222,"t":"//"},{"k":0.071,"e":3.066,"t":"-1"}]},"mark":{"type":"text","fontSize":15,"fill":"#222","baseline":"alphabetic","align":"left"},"encoding":{"x":{"field":"k","type":"quantitative","scale":{"domain":[-0.6,0.6000001],"range":[544.3,870]},"axis":null},"y":{"field":"e","type":"quantitative","scale":{"domain":[0,2.5],"range":[664.5,1026]},"axis":null},"text":{"field":"t"}}},
{"data":{"values":[{"k":-0.58,"k2":-0.406,"e":0.05,"e2":0.453}]},"mark":{"type":"rect","fill":"white","stroke":"#111","strokeWidth":2},"encoding":{"x":{"field":"k","type":"quantitative","scale":{"domain":[-0.6,0.6000001],"range":[544.3,870]},"axis":null},"x2":{"field":"k2"},"y":{"field":"e","type":"quantitative","scale":{"domain":[0,2.5],"range":[664.5,1026]},"axis":null},"y2":{"field":"e2"}}},
{"data":{"values":[{"k":-0.491,"e":0.266,"t":"d"}]},"mark":{"type":"text","font":"Liberation Serif","fontWeight":"bold","fontSize":32,"fill":"#000","baseline":"middle"},"encoding":{"x":{"field":"k","type":"quantitative","scale":{"domain":[-0.6,0.6000001],"range":[544.3,870]},"axis":null},"y":{"field":"e","type":"quantitative","scale":{"domain":[0,2.5],"range":[664.5,1026]},"axis":null},"text":{"field":"t"}}}
]}
